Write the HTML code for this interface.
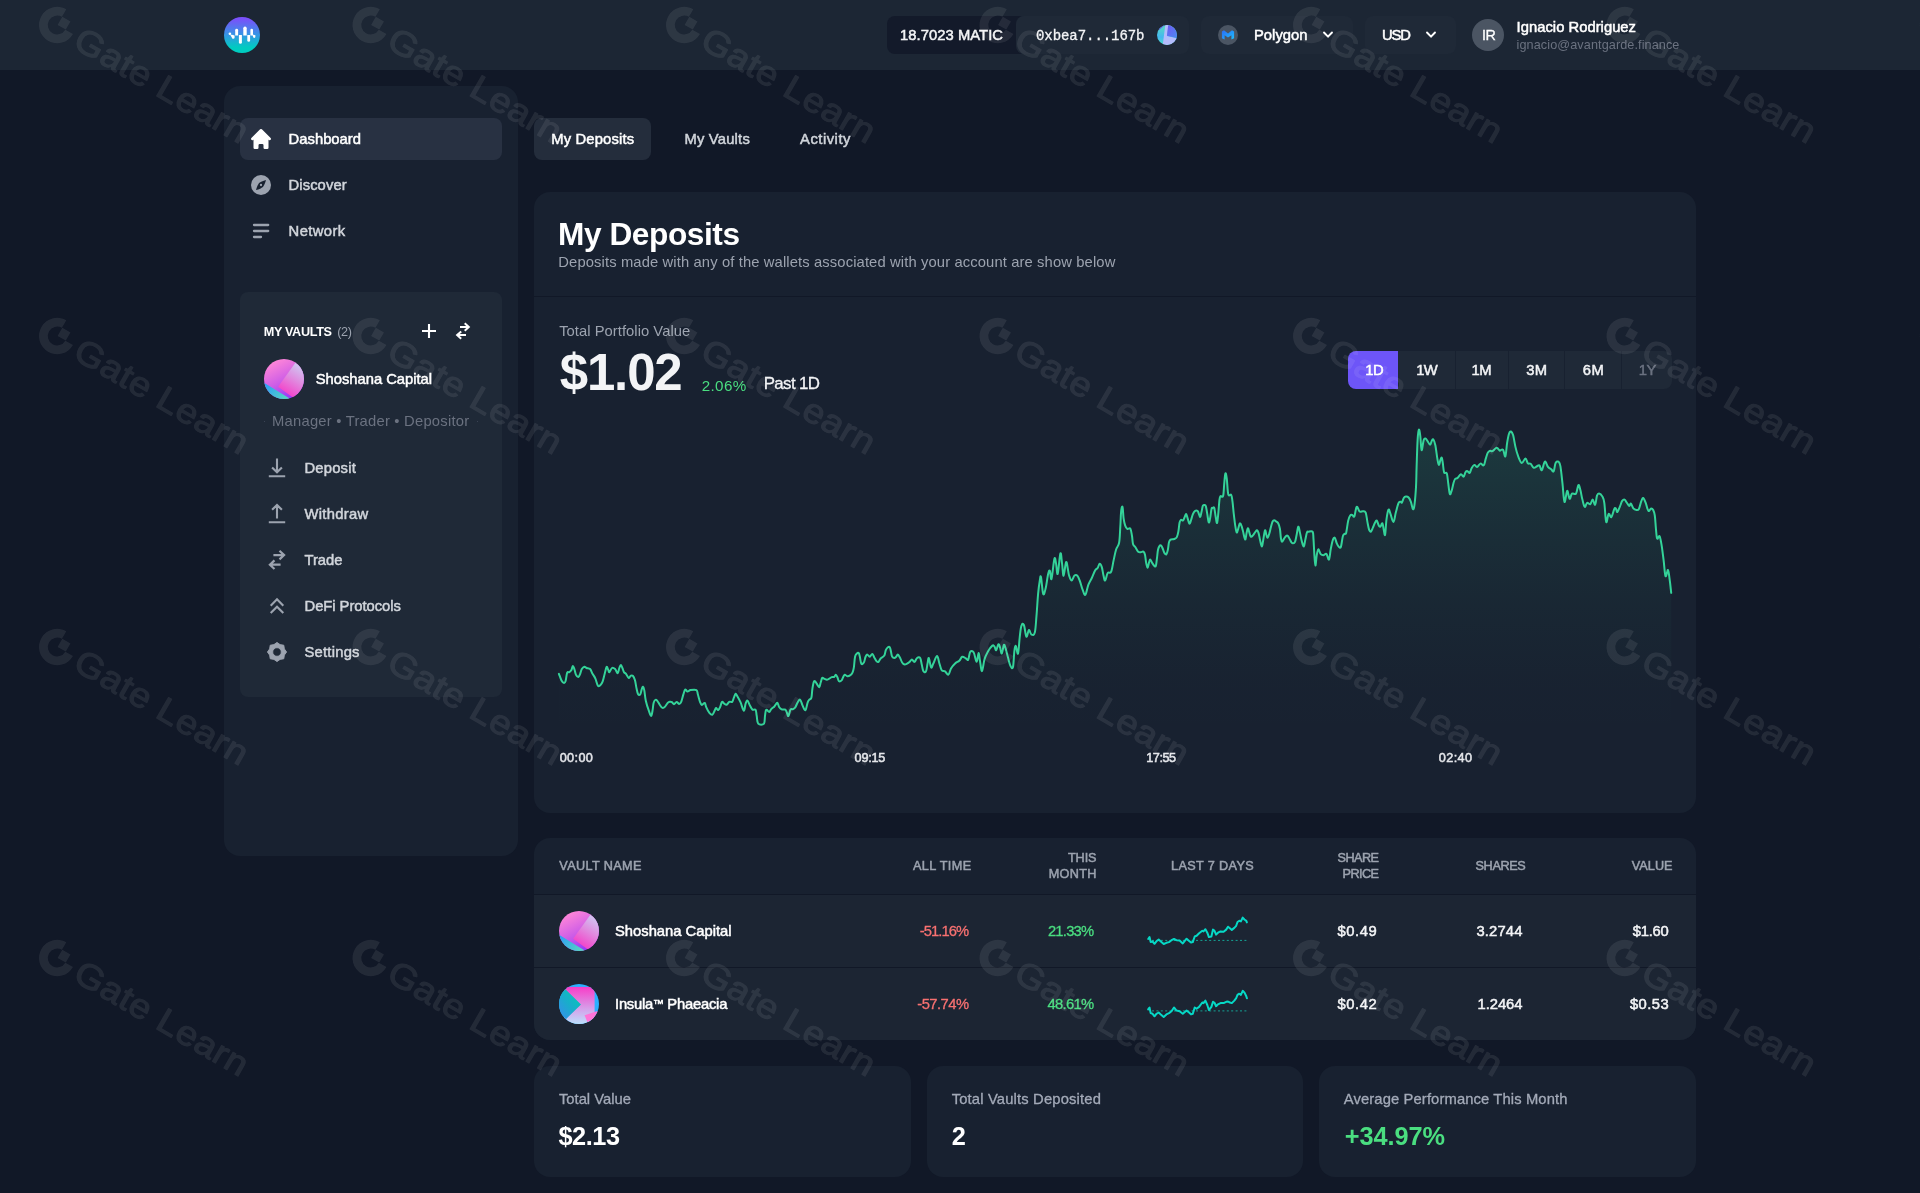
<!DOCTYPE html>
<html lang="en"><head><meta charset="utf-8"><title>Enzyme – My Deposits</title>
<style>
*{box-sizing:border-box;margin:0;padding:0}
html,body{width:1920px;height:1193px;overflow:hidden;background:#111827}
body{font-family:'Liberation Sans', sans-serif;position:relative;color:#fff}
.abs{position:absolute}
.t{position:absolute;white-space:pre;line-height:1;display:block}
.box{position:absolute;border-radius:8px}
.layer{position:absolute;left:0;top:0;width:1920px;height:1193px;will-change:transform}
.side{left:224px;top:86px;width:294px;height:770px;background:#182130;border-radius:16px}
  .card{background:#182130;border-radius:16px}
svg{display:block;overflow:visible}
#wm text{font-family:'Liberation Sans', sans-serif;font-weight:400;fill:#fff;stroke:#fff;stroke-width:1.1px;stroke-linejoin:round}
</style></head><body>
<header class="layer">
<div class="abs" style="left:0;top:0;width:1920px;height:70px;background:#1c2634"></div>
<!-- header pills -->
<div class="box" style="left:887px;top:16px;width:140px;height:38px;background:#131a2a"></div>
<div class="box" style="left:1016px;top:16px;width:173px;height:38px;background:#1f2937"></div>
<div class="box" style="left:1201px;top:16px;width:152px;height:38px;background:#1f2937"></div>
<div class="box" style="left:1365px;top:16px;width:91px;height:38px;background:#1f2937"></div>
<div class="abs" style="left:1472px;top:19px;width:32px;height:32px;border-radius:50%;background:#4b5563"></div>
<!-- logo -->
<svg class="abs" style="left:224px;top:17px" width="36" height="36" viewBox="0 0 36 36"><defs><linearGradient id="lg" x1="0" y1="0" x2="0" y2="1"><stop offset="0.05" stop-color="#7a50fb"/><stop offset="0.5" stop-color="#3496e4"/><stop offset="0.85" stop-color="#00ccc0"/></linearGradient></defs>
<circle cx="18" cy="18" r="18" fill="url(#lg)"/>
<g fill="#fff"><circle cx="5.9" cy="16.8" r="1.3"/>
<path d="M6.2 17.8 L8 17.8 L10.6 18.6 L10.6 20.4 A1.4 1.4 0 0 1 7.8 20.4 Z"/>
<path d="M11.2 18.4 L11.2 13.2 A1.45 1.45 0 0 1 14.1 13.2 L14.1 18.4 Z"/>
<path d="M14.9 18 L17.9 18 L17.9 25.2 A1.5 1.5 0 0 1 14.9 25.2 Z"/>
<path d="M19.3 18.4 L19.3 11.2 A1.7 1.7 0 0 1 22.7 11.2 L22.7 18.4 Z"/>
<path d="M23.3 18 L26.1 18 L26.1 23.4 A1.4 1.4 0 0 1 23.3 23.4 Z"/>
<path d="M26.4 18.4 L26.4 13 A1.3 1.3 0 0 1 29 13 L29 18.4 Z"/>
<path d="M28.6 17.6 L31.4 18.2 L31.4 19.6 A1.2 1.2 0 0 1 29 19.8 Z"/></g></svg>
<!-- address avatar -->
<svg class="abs" style="left:1157px;top:25px" width="20" height="20" viewBox="0 0 20 20"><defs><clipPath id="avc"><circle cx="10" cy="10" r="10"/></clipPath>
<linearGradient id="av1" x1="0.2" y1="0" x2="0.1" y2="1"><stop offset="0" stop-color="#58dcc0"/><stop offset="0.6" stop-color="#44b8f0"/><stop offset="1" stop-color="#50e0c8"/></linearGradient>
<linearGradient id="av2" x1="0" y1="0" x2="1" y2="1"><stop offset="0" stop-color="#7058f4"/><stop offset="1" stop-color="#4a8cf0"/></linearGradient></defs>
<g clip-path="url(#avc)"><rect width="20" height="20" fill="url(#av1)"/>
<polygon points="0,0 8,0 2,5" fill="#6a52f0"/>
<polygon points="8.3,0 11.7,0 10,11 21,13.5 21,21 5.6,21" fill="#b4bcfc"/>
<polygon points="11.2,0 21,0 21,13.2 9.9,10.7" fill="url(#av2)"/></g></svg>
<!-- polygon icon -->
<svg class="abs" style="left:1218px;top:25px" width="20" height="20" viewBox="0 0 20 20"><defs><linearGradient id="pg" x1="0" y1="0" x2="1" y2="1"><stop offset="0" stop-color="#2a6cf6"/><stop offset="1" stop-color="#1ec0ff"/></linearGradient></defs>
<circle cx="10" cy="10" r="10" fill="#4b5563"/>
<path d="M3.9 6.4 L6 5.2 L10 8.6 L14 5.2 L16.1 6.4 L16.1 13.2 L13.4 14.5 L13.4 10.2 L10 12.6 L6.6 10.2 L6.6 14.5 L3.9 13.2 Z" fill="url(#pg)"/></svg>
<!-- chevrons -->
<svg class="abs" style="left:1323px;top:31px" width="10" height="8" viewBox="0 0 10 8"><path d="M1 1.5 L5 5.7 L9 1.5" fill="none" stroke="#fff" stroke-width="1.9" stroke-linecap="round" stroke-linejoin="round"/></svg>
<svg class="abs" style="left:1426px;top:31px" width="10" height="8" viewBox="0 0 10 8"><path d="M1 1.5 L5 5.7 L9 1.5" fill="none" stroke="#fff" stroke-width="1.9" stroke-linecap="round" stroke-linejoin="round"/></svg>

<span class="t" id="t0" style="left:900.0px;top:28.25px;font-size:14.77px;font-weight:400;color:#f3f4f6;-webkit-text-stroke:0.5px currentColor;letter-spacing:0.057px;">18.7023 MATIC</span>
<span class="t" id="t1" style="left:1036.0px;top:29.09px;font-size:14px;font-weight:400;color:#f3f4f6;font-family:'Liberation Mono', monospace;-webkit-text-stroke:0.3px currentColor;letter-spacing:-0.061px;">0xbea7...167b</span>
<span class="t" id="t2" style="left:1254.0px;top:28.25px;font-size:14.77px;font-weight:400;color:#ffffff;-webkit-text-stroke:0.5px currentColor;letter-spacing:0.023px;">Polygon</span>
<span class="t" id="t3" style="left:1382.0px;top:28.25px;font-size:14.77px;font-weight:400;color:#ffffff;-webkit-text-stroke:0.5px currentColor;letter-spacing:-1.094px;">USD</span>
<span class="t" id="t4" style="left:1482.0px;top:28.00px;font-size:14.35px;font-weight:400;color:#ffffff;-webkit-text-stroke:0.3px currentColor;letter-spacing:-0.600px;">IR</span>
<span class="t" id="t5" style="left:1516.6px;top:19.95px;font-size:14.77px;font-weight:400;color:#ffffff;-webkit-text-stroke:0.5px currentColor;letter-spacing:0.023px;">Ignacio Rodriguez</span>
<span class="t" id="t6" style="left:1516.6px;top:38.63px;font-size:12.66px;font-weight:400;color:#6b7280;letter-spacing:0.087px;">ignacio@avantgarde.finance</span>
</header>

<!-- sidebar -->
<aside class="layer">
<div class="abs side"></div>
<div class="box" style="left:240px;top:118px;width:262px;height:42px;background:#283142"></div>
<div class="box" style="left:240px;top:292px;width:262px;height:405px;background:#1f2937"></div>
<svg class="abs" style="left:251px;top:129px" width="20" height="20" viewBox="0 0 20 20"><path fill="#fff" d="M10.707 2.293a1 1 0 00-1.414 0l-7 7a1 1 0 001.414 1.414L4 10.414V17a1 1 0 001 1h2a1 1 0 001-1v-2a1 1 0 011-1h2a1 1 0 011 1v2a1 1 0 001 1h2a1 1 0 001-1v-6.586l.293.293a1 1 0 001.414-1.414l-7-7z" transform="translate(-2.5 -2.5) scale(1.25)"/></svg>
<svg class="abs" style="left:251px;top:175px" width="20" height="20" viewBox="0 0 20 20"><circle cx="10" cy="10" r="10" fill="#9ca3af"/><path d="M15 5 C14.2 8.2 12.9 10.6 11.9 11.9 C10.6 12.9 8.2 14.2 5 15 C5.8 11.8 7.1 9.4 8.1 8.1 C9.4 7.1 11.8 5.8 15 5 Z" fill="#182130"/><circle cx="10" cy="10" r="1.15" fill="#9ca3af"/></svg>
<svg class="abs" style="left:251px;top:221px" width="20" height="20" viewBox="0 0 20 20"><g stroke="#9ca3af" stroke-width="2.3" stroke-linecap="round"><path d="M3 4h14.2M3 10h14.2M3 16h7"/></g></svg>
<!-- vault panel icons -->
<svg class="abs" style="left:419px;top:321px" width="20" height="20" viewBox="0 0 20 20"><path d="M3 10h14M10 3v14" stroke="#fff" stroke-width="2.1" fill="none"/></svg>
<svg class="abs" style="left:453px;top:321px" width="20" height="20" viewBox="0 0 20 20"><path d="M7 6h8.8M11.7 2.3L15.8 6l-4.1 3.7M13 14.1H4.1M8.2 10.4L4.1 14.1l4.1 3.7" stroke="#fff" stroke-width="2" fill="none" stroke-linejoin="miter"/></svg>
<div class="abs" style="left:264px;top:359px;width:40px;height:40px"><svg class="abs" style="left:0;top:0" width="40" height="40" viewBox="0 0 40 40"><defs>
<clipPath id="s1c"><circle cx="20" cy="20" r="20"/></clipPath>
<linearGradient id="s1a" x1="0.15" y1="0.1" x2="0.6" y2="0.95"><stop offset="0" stop-color="#ff86d8"/><stop offset="0.55" stop-color="#cf5ee6"/><stop offset="1" stop-color="#9a3cf8"/></linearGradient>
<linearGradient id="s1b" x1="0.75" y1="0.05" x2="0.25" y2="0.9"><stop offset="0" stop-color="#cdd0f4"/><stop offset="0.5" stop-color="#e08adf"/><stop offset="1" stop-color="#f53ec8"/></linearGradient>
<linearGradient id="s1d" x1="0" y1="0.2" x2="1" y2="0.9"><stop offset="0" stop-color="#2a9cf8"/><stop offset="1" stop-color="#5fe0b8"/></linearGradient>
</defs><g clip-path="url(#s1c)"><rect width="40" height="40" fill="url(#s1a)"/>
<path d="M0 4 L12 0 L8 3 Z" fill="#5a54ee"/>
<polygon points="-2,22.5 27,40.3 27,44 -2,44" fill="url(#s1d)"/>
<polygon points="14.1,27.7 31.4,3.8 48,16 31,40" fill="url(#s1b)"/>
</g></svg></div>
<div class="abs" style="left:264px;top:421px;width:1px;height:1px;background:#3a4354"></div><div class="abs" style="left:477px;top:421px;width:1px;height:1px;background:#3a4354"></div>
<!-- vault menu icons -->
<svg class="abs" style="left:267px;top:458px" width="20" height="20" viewBox="0 0 20 20"><path d="M10 0.6V14M5.1 9.4L10 14.3l4.9-4.9M1.8 18.3h16.4" stroke="#9ca3af" stroke-width="2.1" fill="none"/></svg>
<svg class="abs" style="left:267px;top:504px" width="20" height="20" viewBox="0 0 20 20"><path d="M10 14.6V1.2M5.1 5.8L10 0.9l4.9 4.9M1.8 18.3h16.4" stroke="#9ca3af" stroke-width="2.1" fill="none"/></svg>
<svg class="abs" style="left:267px;top:550px" width="20" height="20" viewBox="0 0 20 20"><path d="M6.4 5.1h10.7M12.5 0.8L17.1 5.1L12.5 9.4M13.6 14.7H2.9M7.5 10.4L2.9 14.7L7.5 19" stroke="#9ca3af" stroke-width="2.2" fill="none"/></svg>
<svg class="abs" style="left:267px;top:596px" width="20" height="20" viewBox="0 0 20 20"><path d="M3.7 9.7L10 3.3l6.3 6.4M3.7 17.1L10 10.7l6.3 6.4" stroke="#9ca3af" stroke-width="2.1" fill="none"/></svg>
<svg class="abs" style="left:267px;top:642px" width="20" height="20" viewBox="0 0 20 20"><path fill="#9ca3af" fill-rule="evenodd" stroke="#9ca3af" stroke-width="0.9" stroke-linejoin="round" d="M10.00 0.40 L13.06 2.61 L16.79 3.21 L17.39 6.94 L19.60 10.00 L17.39 13.06 L16.79 16.79 L13.06 17.39 L10.00 19.60 L6.94 17.39 L3.21 16.79 L2.61 13.06 L0.40 10.00 L2.61 6.94 L3.21 3.21 L6.94 2.61 Z M10 5.7 A4.3 4.3 0 1 0 10 14.3 A4.3 4.3 0 1 0 10 5.7 Z"/></svg>

<span class="t" id="t7" style="left:288.6px;top:132.15px;font-size:14.77px;font-weight:400;color:#ffffff;-webkit-text-stroke:0.5px currentColor;letter-spacing:0.019px;">Dashboard</span>
<span class="t" id="t8" style="left:288.6px;top:178.25px;font-size:14.77px;font-weight:400;color:#d1d5db;-webkit-text-stroke:0.5px currentColor;letter-spacing:0.080px;">Discover</span>
<span class="t" id="t9" style="left:288.6px;top:224.25px;font-size:14.77px;font-weight:400;color:#d1d5db;-webkit-text-stroke:0.5px currentColor;letter-spacing:0.391px;">Network</span>
<span class="t" id="t10" style="left:263.7px;top:325.93px;font-size:12.66px;font-weight:700;color:#ffffff;letter-spacing:-0.341px;">MY VAULTS</span>
<span class="t" id="t11" style="left:337.2px;top:325.93px;font-size:12.66px;font-weight:400;color:#9ca3af;letter-spacing:-0.337px;">(2)</span>
<span class="t" id="t12" style="left:315.8px;top:371.75px;font-size:14.77px;font-weight:400;color:#ffffff;-webkit-text-stroke:0.5px currentColor;letter-spacing:-0.025px;">Shoshana Capital</span>
<span class="t" id="t13" style="left:272.1px;top:413.95px;font-size:14.77px;font-weight:400;color:#6b7280;letter-spacing:0.226px;">Manager • Trader • Depositor</span>
<span class="t" id="t14" style="left:304.5px;top:461.35px;font-size:14.77px;font-weight:400;color:#d1d5db;-webkit-text-stroke:0.5px currentColor;letter-spacing:0.206px;">Deposit</span>
<span class="t" id="t15" style="left:304.5px;top:507.35px;font-size:14.77px;font-weight:400;color:#d1d5db;-webkit-text-stroke:0.5px currentColor;letter-spacing:0.308px;">Withdraw</span>
<span class="t" id="t16" style="left:304.5px;top:553.35px;font-size:14.77px;font-weight:400;color:#d1d5db;-webkit-text-stroke:0.5px currentColor;letter-spacing:-0.008px;">Trade</span>
<span class="t" id="t17" style="left:304.5px;top:599.35px;font-size:14.77px;font-weight:400;color:#d1d5db;-webkit-text-stroke:0.5px currentColor;letter-spacing:-0.033px;">DeFi Protocols</span>
<span class="t" id="t18" style="left:304.5px;top:645.35px;font-size:14.77px;font-weight:400;color:#d1d5db;-webkit-text-stroke:0.5px currentColor;letter-spacing:0.234px;">Settings</span>
</aside>

<main class="layer">
<!-- tabs -->
<div class="box" style="left:534px;top:118px;width:117px;height:42px;background:#242d3c"></div>
<!-- main card -->
<div class="abs card" style="left:534px;top:192px;width:1162px;height:621px"></div>
<div class="abs" style="left:534px;top:296px;width:1162px;height:1px;background:#111827"></div>
<!-- range buttons -->
<div class="abs" style="left:1348px;top:351px;width:324px;height:38px;border-radius:8px;background:#1f2937;overflow:hidden">
<div class="abs" style="left:0;top:0;width:50px;height:38px;background:#6d55f8"></div>
<div class="abs" style="left:107px;top:0;width:1px;height:38px;background:#182130"></div>
<div class="abs" style="left:160px;top:0;width:1px;height:38px;background:#182130"></div>
<div class="abs" style="left:216px;top:0;width:1px;height:38px;background:#182130"></div>
<div class="abs" style="left:273px;top:0;width:1px;height:38px;background:#182130"></div>
</div>
<!-- chart -->
<svg class="abs" style="left:0;top:0" width="1920" height="1193" viewBox="0 0 1920 1193"><defs><linearGradient id="cg" gradientUnits="userSpaceOnUse" x1="0" y1="430" x2="0" y2="741"><stop offset="0" stop-color="#34d399" stop-opacity="0.14"/><stop offset="0.3" stop-color="#34d399" stop-opacity="0.078"/><stop offset="0.55" stop-color="#34d399" stop-opacity="0.036"/><stop offset="0.8" stop-color="#34d399" stop-opacity="0.008"/><stop offset="1" stop-color="#34d399" stop-opacity="0"/></linearGradient></defs>
<path d="M558.9 673.8 C559.4 675.0 560.6 678.8 561.5 680.5 C562.4 682.2 563.4 683.0 564.1 683.1 C564.8 683.2 565.0 682.9 565.6 681.0 C566.2 679.1 566.5 674.3 567.2 672.7 C567.9 671.1 568.5 672.7 569.3 672.2 C570.1 671.7 570.8 671.2 571.4 670.1 C572.0 669.0 572.3 666.0 572.9 665.9 C573.5 665.8 573.9 668.0 574.5 669.6 C575.1 671.2 575.3 673.4 576.0 674.8 C576.7 676.1 577.5 677.3 578.3 677.1 C579.1 676.9 579.6 675.2 580.2 673.8 C580.8 672.4 581.0 670.4 581.8 669.1 C582.6 667.8 583.6 666.9 584.4 666.7 C585.2 666.5 585.5 667.6 586.5 668.0 C587.5 668.4 589.1 668.2 590.1 669.1 C591.1 670.0 591.3 671.5 592.2 673.2 C593.1 674.9 594.3 676.1 595.3 678.4 C596.3 680.6 597.0 684.5 597.9 685.7 C598.8 686.9 599.7 685.7 600.5 685.0 C601.3 684.3 601.8 683.6 602.6 681.6 C603.4 679.6 604.0 676.4 604.7 673.8 C605.4 671.2 606.0 667.7 606.6 667.0 C607.2 666.3 607.8 669.2 608.3 670.1 C608.8 671.0 608.7 672.6 609.4 672.2 C610.1 671.8 611.0 668.6 612.0 668.0 C613.0 667.4 614.1 668.2 615.1 669.1 C616.1 670.0 616.9 673.4 617.7 673.2 C618.5 673.0 618.7 669.5 619.3 668.0 C619.9 666.5 620.2 664.9 620.8 664.9 C621.4 664.9 621.8 666.7 622.4 668.0 C623.0 669.3 623.4 671.2 624.0 672.2 C624.6 673.2 625.2 672.8 626.0 673.8 C626.8 674.8 627.8 677.5 628.6 677.9 C629.4 678.3 629.9 676.2 630.7 675.8 C631.5 675.4 632.0 675.0 632.8 675.8 C633.6 676.6 634.2 677.8 634.9 680.0 C635.6 682.2 635.9 685.8 636.5 688.3 C637.1 690.8 637.4 693.0 638.0 694.1 C638.6 695.2 639.4 695.4 640.1 694.6 C640.8 693.8 641.2 690.8 641.7 689.4 C642.2 688.0 642.5 686.6 643.0 686.8 C643.5 687.0 643.8 687.9 644.3 690.4 C644.8 692.9 645.0 697.1 645.8 700.8 C646.6 704.5 648.0 708.5 649.0 711.2 C650.0 713.9 650.6 716.1 651.2 715.9 C651.8 715.7 652.2 712.5 652.6 710.2 C653.0 707.9 653.1 704.7 653.6 702.9 C654.1 701.1 654.5 700.4 655.2 700.0 C655.9 699.6 656.5 699.9 657.3 700.8 C658.1 701.7 659.0 703.7 659.9 705.0 C660.8 706.3 661.6 707.6 662.5 707.9 C663.4 708.2 664.2 707.5 665.1 706.6 C666.0 705.7 666.9 703.8 667.7 702.9 C668.5 702.0 669.0 701.8 669.8 701.7 C670.6 701.6 671.1 701.6 671.9 702.1 C672.7 702.6 673.2 704.2 674.0 704.2 C674.8 704.2 675.7 701.9 676.6 701.9 C677.5 701.9 678.4 704.0 679.2 704.0 C680.0 704.0 680.5 703.6 681.2 701.9 C681.9 700.2 682.6 696.8 683.3 694.6 C684.0 692.4 684.4 690.2 685.2 689.6 C686.0 689.0 686.5 691.4 687.5 691.5 C688.5 691.6 689.0 690.4 690.6 690.1 C692.2 689.8 695.1 689.3 696.4 690.1 C697.7 690.9 697.3 692.5 697.9 694.6 C698.5 696.7 699.3 700.0 700.0 701.9 C700.7 703.8 701.1 704.8 701.9 705.0 C702.7 705.2 703.9 702.5 704.7 702.9 C705.5 703.3 705.4 705.3 706.2 707.1 C707.0 708.9 708.3 711.4 709.4 712.8 C710.5 714.1 711.6 715.0 712.5 714.6 C713.4 714.2 714.0 711.9 714.6 710.7 C715.2 709.5 715.5 708.2 716.1 708.1 C716.7 708.0 717.4 710.3 718.2 710.0 C719.0 709.7 719.6 708.1 720.3 706.6 C721.0 705.1 721.2 702.5 721.9 701.9 C722.6 701.3 723.2 702.9 724.0 703.4 C724.8 703.9 725.7 705.1 726.6 704.8 C727.5 704.5 728.2 702.5 729.2 701.9 C730.2 701.3 731.5 702.5 732.3 701.7 C733.1 700.9 733.3 699.1 733.9 697.7 C734.5 696.3 735.0 694.0 735.6 693.8 C736.2 693.6 736.6 695.0 737.5 696.5 C738.4 698.0 739.5 699.8 740.6 702.4 C741.7 705.0 742.9 710.5 743.8 710.7 C744.7 710.9 745.0 705.1 745.7 703.3 C746.4 701.5 746.7 700.3 747.5 700.7 C748.3 701.1 749.0 703.8 749.9 705.4 C750.8 707.0 751.5 708.8 752.5 709.6 C753.5 710.4 754.8 708.7 755.6 709.8 C756.4 710.9 756.2 713.3 756.7 715.8 C757.2 718.3 756.9 722.2 758.2 723.6 C759.5 725.0 762.8 725.0 764.0 723.6 C765.0 722.2 764.6 718.3 765.0 715.8 C765.4 713.3 765.4 710.5 766.2 709.8 C767.0 709.1 768.3 712.0 769.2 711.9 C770.1 711.8 770.3 710.1 771.2 709.1 C772.1 708.1 773.3 707.6 774.4 706.5 C775.5 705.4 776.5 702.7 777.3 702.8 C778.1 702.9 778.3 705.8 779.1 707.0 C779.9 708.2 780.6 708.9 781.7 709.4 C782.8 709.9 784.4 709.0 785.3 709.6 C786.2 710.2 786.3 711.5 786.9 712.7 C787.5 713.9 787.8 716.6 788.4 716.0 C789.0 715.4 789.7 710.8 790.5 709.6 C791.3 708.4 792.3 709.5 793.1 709.1 C793.9 708.7 794.4 708.7 795.2 707.5 C796.0 706.3 796.9 703.7 797.8 702.3 C798.7 700.9 799.4 699.1 800.2 699.7 C801.0 700.3 801.6 703.5 802.5 705.4 C803.4 707.3 804.5 710.7 805.4 710.1 C806.3 709.5 807.0 704.2 807.7 702.3 C808.4 700.4 808.6 700.5 809.3 699.7 C810.0 698.9 810.8 699.6 811.4 697.6 C812.0 695.6 811.9 691.8 812.4 688.8 C812.9 685.8 813.4 682.2 814.2 681.2 C815.0 680.2 815.7 682.4 816.6 683.5 C817.5 684.6 818.5 687.4 819.2 687.2 C819.9 687.0 820.1 684.2 820.7 682.5 C821.3 680.8 821.6 678.4 822.3 677.8 C823.0 677.2 823.5 678.6 824.4 678.9 C825.3 679.2 826.2 679.9 827.5 679.6 C828.8 679.3 830.5 677.6 831.7 677.1 C832.9 676.6 833.6 677.2 834.3 676.8 C835.0 676.4 835.2 674.6 835.8 674.7 C836.4 674.8 836.8 676.1 837.4 677.3 C838.0 678.5 838.2 680.6 839.0 681.2 C839.8 681.8 840.9 681.1 841.6 680.4 C842.3 679.7 842.5 678.3 843.1 677.3 C843.7 676.3 843.9 674.9 844.7 674.7 C845.5 674.5 846.3 676.1 847.3 676.2 C848.3 676.3 849.5 675.8 850.4 675.2 C851.3 674.6 851.9 673.9 852.5 672.6 C853.1 671.3 853.3 670.8 853.8 667.9 C854.3 665.0 854.5 659.1 855.1 656.5 C855.7 653.9 856.5 653.9 857.2 653.3 C857.9 652.7 858.3 652.5 858.8 653.1 C859.3 653.7 859.3 654.6 859.8 656.5 C860.3 658.4 860.6 662.8 861.4 663.8 C862.2 664.8 863.3 663.4 864.0 662.2 C864.7 661.0 864.9 658.4 865.5 657.0 C866.1 655.6 866.3 654.5 867.1 654.4 C867.9 654.3 868.8 656.8 869.7 656.7 C870.6 656.6 871.5 653.7 872.3 653.9 C873.1 654.1 873.6 656.4 874.4 657.7 C875.2 659.0 875.8 660.3 876.5 661.1 C877.2 661.9 877.8 662.4 878.5 661.9 C879.2 661.4 879.6 659.6 880.6 658.5 C881.6 657.4 883.4 657.1 884.3 655.6 C885.2 654.1 885.2 651.7 885.8 650.2 C886.4 648.7 887.2 647.8 887.9 647.3 C888.6 646.8 889.2 646.5 889.8 647.3 C890.4 648.1 890.6 650.1 891.0 651.8 C891.4 653.5 891.5 655.4 892.1 656.5 C892.7 657.6 893.5 658.0 894.2 658.0 C894.9 658.0 895.6 657.3 896.2 656.7 C896.8 656.1 897.1 654.5 897.8 654.6 C898.5 654.7 899.1 656.1 899.9 657.5 C900.7 658.9 901.2 661.0 902.0 662.2 C902.8 663.4 903.3 664.0 904.1 664.3 C904.9 664.6 905.7 664.3 906.7 663.8 C907.7 663.3 908.9 662.5 909.8 661.7 C910.7 660.9 911.1 659.4 911.9 659.4 C912.7 659.4 913.6 662.2 914.5 661.9 C915.4 661.6 916.1 658.7 917.1 658.0 C918.1 657.3 919.4 656.8 920.2 658.0 C921.0 659.2 921.2 662.5 921.8 664.8 C922.4 667.1 922.6 669.8 923.3 671.0 C924.0 672.2 925.1 672.9 925.9 671.6 C926.7 670.3 927.0 666.2 927.5 663.8 C928.0 661.4 928.2 657.4 928.8 658.0 C929.4 658.6 930.3 666.4 931.1 667.4 C931.9 668.4 932.1 665.9 933.2 663.8 C934.3 661.7 935.9 656.2 937.0 656.0 C938.1 655.8 938.4 660.1 939.2 662.7 C940.0 665.3 940.6 668.6 941.7 670.2 C942.8 671.8 943.9 670.6 945.1 671.4 C946.3 672.2 947.3 675.2 948.4 674.7 C949.5 674.2 949.8 670.5 951.0 668.5 C952.2 666.5 953.6 664.9 955.1 663.5 C956.6 662.1 958.0 661.9 959.3 660.7 C960.6 659.5 961.0 657.2 962.2 656.8 C963.4 656.4 964.9 658.0 966.0 658.5 C967.1 659.0 967.4 660.9 968.2 659.7 C969.0 658.5 969.2 653.1 970.2 651.8 C971.2 650.5 972.4 650.5 973.6 652.3 C974.8 654.1 975.7 661.7 976.6 661.8 C977.5 661.9 978.0 653.1 978.6 653.0 C979.2 652.9 979.4 657.7 980.0 661.0 C980.6 664.3 981.2 671.4 982.0 671.1 C982.8 670.8 983.5 662.8 984.5 659.3 C985.5 655.8 986.4 654.3 987.8 651.8 C989.2 649.3 991.2 646.5 992.4 645.6 C993.6 644.7 993.8 645.9 994.5 646.7 C995.2 647.5 995.5 650.6 996.2 650.1 C996.9 649.6 997.7 644.7 998.4 644.2 C999.1 643.8 999.5 645.9 1000.1 647.6 C1000.7 649.3 1001.1 654.0 1001.8 653.5 C1002.5 653.0 1003.2 646.2 1003.8 645.1 C1004.4 644.0 1004.6 645.4 1005.4 647.6 C1006.2 649.9 1007.1 654.3 1008.0 657.6 C1008.9 660.9 1009.6 664.3 1010.5 666.0 C1011.4 667.7 1012.3 669.5 1013.0 666.9 C1013.7 664.3 1013.8 655.6 1014.3 651.8 C1014.8 648.0 1015.1 645.6 1015.8 645.9 C1016.5 646.2 1017.3 655.0 1018.0 653.5 C1018.7 652.0 1019.1 642.5 1019.7 637.5 C1020.3 632.5 1020.6 628.0 1021.4 625.8 C1022.2 623.5 1023.0 623.0 1023.9 625.0 C1024.8 627.0 1025.5 635.8 1026.4 636.7 C1027.3 637.6 1028.0 630.4 1028.9 630.0 C1029.8 629.6 1030.3 634.0 1031.4 634.5 C1032.5 635.0 1033.9 635.9 1034.8 632.5 C1035.7 629.1 1035.9 622.6 1036.5 615.7 C1037.1 608.8 1037.5 600.2 1038.1 593.9 C1038.7 587.6 1039.3 583.5 1039.8 580.5 C1040.3 577.5 1040.4 574.8 1041.0 577.2 C1041.6 579.6 1042.4 591.9 1043.2 593.9 C1044.0 595.9 1044.8 591.7 1045.7 588.1 C1046.6 584.5 1047.4 576.9 1048.2 573.8 C1049.0 570.7 1049.3 569.9 1049.9 570.8 C1050.5 571.7 1050.7 581.1 1051.5 578.9 C1052.3 576.7 1053.6 561.4 1054.4 558.7 C1055.2 556.0 1055.5 561.1 1056.1 563.8 C1056.7 566.5 1056.9 575.7 1057.7 573.8 C1058.5 571.9 1059.6 555.2 1060.4 553.4 C1061.2 551.6 1061.5 559.8 1062.1 563.8 C1062.7 567.8 1062.9 576.1 1063.6 575.8 C1064.3 575.5 1065.3 563.4 1066.1 562.1 C1066.9 560.8 1067.3 566.4 1067.8 568.8 C1068.3 571.2 1068.4 573.4 1069.1 575.5 C1069.8 577.6 1070.7 580.5 1071.7 580.5 C1072.7 580.5 1073.5 576.3 1074.5 575.5 C1075.5 574.7 1076.5 574.7 1077.5 575.8 C1078.5 576.9 1079.1 578.9 1080.0 581.4 C1080.9 583.9 1081.6 587.3 1082.6 589.7 C1083.6 592.1 1084.4 595.7 1085.4 594.8 C1086.4 593.9 1087.2 587.7 1088.4 584.7 C1089.6 581.7 1090.6 580.6 1091.8 578.0 C1093.0 575.4 1094.1 572.3 1095.1 570.5 C1096.1 568.7 1096.8 569.2 1097.6 568.0 C1098.4 566.8 1098.9 564.0 1099.7 563.8 C1100.5 563.6 1101.1 565.0 1101.8 567.1 C1102.5 569.2 1102.9 573.1 1103.5 575.5 C1104.1 577.9 1104.4 581.0 1105.2 580.5 C1106.0 580.0 1106.6 574.6 1107.7 573.0 C1108.8 571.4 1110.0 574.1 1111.1 571.8 C1112.2 569.5 1112.7 564.4 1113.6 560.4 C1114.5 556.4 1115.1 552.7 1116.1 549.5 C1117.1 546.3 1118.3 546.9 1119.1 542.8 C1119.9 538.7 1119.9 532.5 1120.3 526.9 C1120.7 521.3 1120.7 515.4 1121.1 511.8 C1121.5 508.2 1122.0 505.6 1122.5 506.8 C1123.0 508.0 1123.1 514.9 1123.6 518.3 C1124.1 521.7 1124.5 523.7 1125.2 525.6 C1125.9 527.5 1126.4 528.2 1127.3 528.8 C1128.2 529.4 1129.6 527.5 1130.4 528.8 C1131.2 530.1 1131.5 533.3 1132.0 536.0 C1132.5 538.7 1132.4 541.8 1133.0 543.9 C1133.6 546.0 1134.7 546.1 1135.6 547.5 C1136.5 548.9 1137.3 550.9 1138.2 551.7 C1139.1 552.5 1139.9 552.2 1140.8 552.2 C1141.7 552.2 1142.6 551.2 1143.4 551.7 C1144.2 552.2 1144.5 552.7 1145.0 554.8 C1145.5 556.9 1145.7 560.8 1146.2 563.1 C1146.7 565.4 1147.1 567.9 1147.6 567.8 C1148.1 567.7 1148.5 564.1 1149.0 562.6 C1149.5 561.1 1149.6 559.4 1150.2 559.5 C1150.8 559.6 1151.5 561.9 1152.3 563.1 C1153.1 564.3 1153.8 565.5 1154.4 566.0 C1155.0 566.5 1155.4 567.2 1155.9 565.7 C1156.4 564.2 1156.6 560.8 1157.0 557.9 C1157.4 555.0 1157.5 552.0 1158.0 549.8 C1158.5 547.6 1159.0 546.7 1159.6 545.9 C1160.2 545.1 1160.5 545.1 1161.1 545.6 C1161.7 546.1 1162.1 547.2 1162.7 548.5 C1163.3 549.8 1163.6 551.7 1164.3 552.7 C1165.0 553.7 1165.8 554.9 1166.4 554.3 C1167.0 553.7 1167.4 551.8 1167.9 549.6 C1168.4 547.4 1168.5 544.1 1169.0 542.3 C1169.5 540.5 1169.6 540.3 1170.5 539.7 C1171.4 539.1 1173.1 539.5 1174.2 539.0 C1175.3 538.5 1176.1 538.4 1176.8 537.1 C1177.5 535.8 1177.8 534.5 1178.3 531.9 C1178.8 529.3 1179.1 524.7 1179.6 522.5 C1180.1 520.3 1180.3 520.3 1180.9 519.9 C1181.5 519.5 1182.3 520.9 1183.0 520.4 C1183.7 519.9 1184.0 518.5 1184.6 517.3 C1185.2 516.1 1185.6 513.9 1186.1 514.0 C1186.6 514.1 1186.9 516.1 1187.5 517.8 C1188.1 519.5 1188.7 522.9 1189.3 523.5 C1189.9 524.1 1190.2 522.6 1190.8 520.9 C1191.4 519.2 1192.1 516.0 1192.9 514.2 C1193.7 512.4 1194.2 511.6 1195.0 511.0 C1195.8 510.4 1196.9 510.4 1197.6 511.0 C1198.3 511.6 1198.5 513.2 1199.0 514.2 C1199.5 515.2 1199.8 517.2 1200.2 516.8 C1200.7 516.4 1201.0 514.1 1201.5 512.1 C1202.0 510.1 1202.3 507.1 1202.8 505.8 C1203.3 504.5 1203.8 504.9 1204.4 505.0 C1205.0 505.1 1205.4 504.7 1205.9 506.4 C1206.4 508.1 1206.8 511.3 1207.3 514.2 C1207.8 517.1 1208.3 521.8 1208.8 522.5 C1209.3 523.2 1209.6 520.7 1210.1 518.3 C1210.6 515.9 1211.0 510.9 1211.5 509.0 C1212.0 507.1 1212.4 508.1 1212.9 507.9 C1213.4 507.7 1213.8 506.6 1214.3 508.1 C1214.8 509.6 1215.1 513.5 1215.6 516.2 C1216.1 518.9 1216.6 523.7 1217.1 523.0 C1217.6 522.3 1218.0 516.3 1218.4 512.1 C1218.8 507.9 1219.1 502.5 1219.5 499.6 C1219.9 496.7 1219.9 496.9 1220.5 496.2 C1221.1 495.5 1222.4 498.1 1223.1 495.9 C1223.8 493.7 1223.8 488.0 1224.2 484.0 C1224.6 480.0 1224.9 474.4 1225.4 473.5 C1225.9 472.6 1226.3 475.0 1226.8 478.8 C1227.3 482.6 1227.5 491.5 1228.3 494.4 C1229.1 497.3 1230.4 493.6 1231.2 494.9 C1232.0 496.2 1232.0 498.2 1232.5 501.7 C1233.0 505.2 1233.3 510.1 1233.8 514.2 C1234.3 518.3 1234.6 521.3 1235.1 524.6 C1235.6 527.9 1236.1 531.6 1236.7 532.4 C1237.3 533.2 1237.6 530.4 1238.2 528.8 C1238.8 527.2 1239.2 524.1 1239.8 523.5 C1240.4 522.9 1240.8 524.3 1241.4 525.6 C1242.0 526.9 1242.3 528.6 1242.9 530.8 C1243.5 533.0 1244.0 536.1 1244.5 537.6 C1245.0 539.1 1245.1 540.0 1245.5 539.2 C1245.9 538.4 1246.2 534.9 1246.6 532.9 C1247.0 530.9 1247.4 528.4 1247.9 528.2 C1248.4 528.0 1248.7 530.4 1249.2 531.9 C1249.7 533.4 1250.1 536.0 1250.7 536.6 C1251.3 537.2 1252.0 536.3 1252.8 535.5 C1253.6 534.7 1254.6 532.8 1255.4 531.9 C1256.2 531.0 1256.4 530.1 1257.0 530.3 C1257.6 530.5 1257.9 531.1 1258.5 532.9 C1259.1 534.7 1259.5 537.8 1260.1 540.2 C1260.7 542.6 1261.3 546.5 1261.9 546.5 C1262.5 546.5 1262.6 543.1 1263.2 540.2 C1263.8 537.3 1264.4 531.2 1265.0 530.3 C1265.6 529.4 1265.9 533.7 1266.4 535.0 C1266.9 536.3 1267.1 538.0 1267.7 537.6 C1268.3 537.2 1268.9 534.9 1269.5 532.9 C1270.1 530.9 1270.4 528.8 1271.0 526.7 C1271.6 524.6 1272.0 522.7 1272.6 521.5 C1273.2 520.3 1273.6 520.2 1274.2 520.2 C1274.8 520.2 1275.5 520.9 1276.2 521.5 C1276.9 522.1 1277.6 522.2 1278.3 523.5 C1279.0 524.8 1279.4 526.2 1279.9 528.8 C1280.4 531.4 1280.5 535.8 1280.9 538.1 C1281.3 540.4 1281.4 541.7 1282.0 541.8 C1282.6 541.9 1283.4 539.6 1284.1 538.6 C1284.8 537.6 1285.5 536.5 1286.1 536.0 C1286.7 535.5 1287.0 535.2 1287.7 535.8 C1288.4 536.4 1289.1 538.0 1289.8 539.2 C1290.5 540.4 1290.8 541.6 1291.4 542.3 C1292.0 543.0 1292.3 543.4 1292.9 543.3 C1293.5 543.2 1294.3 543.3 1295.0 541.8 C1295.7 540.3 1296.0 537.7 1296.6 535.0 C1297.2 532.3 1297.7 527.1 1298.3 526.7 C1298.9 526.3 1299.4 530.3 1300.0 532.9 C1300.6 535.5 1301.1 538.8 1301.8 541.2 C1302.5 543.6 1303.3 546.9 1303.9 546.5 C1304.5 546.1 1304.8 541.7 1305.4 539.2 C1306.0 536.7 1306.4 533.8 1307.0 532.4 C1307.6 531.0 1307.5 531.8 1308.5 531.7 C1309.5 531.6 1311.8 530.5 1312.7 531.9 C1313.5 533.2 1313.2 535.3 1313.5 539.2 C1313.8 543.1 1314.0 549.1 1314.3 553.8 C1314.6 558.5 1315.0 565.2 1315.4 565.5 C1315.8 565.8 1316.2 558.4 1316.7 555.5 C1317.2 552.6 1317.6 549.7 1318.3 549.4 C1319.0 549.1 1319.8 553.1 1320.7 554.1 C1321.6 555.1 1322.4 555.2 1323.4 555.2 C1324.4 555.2 1325.4 553.1 1326.4 553.9 C1327.4 554.7 1328.2 560.4 1329.0 559.5 C1329.8 558.6 1330.1 552.3 1330.8 548.8 C1331.5 545.3 1332.1 542.1 1332.8 540.1 C1333.5 538.1 1334.1 537.2 1334.8 537.8 C1335.5 538.4 1336.1 541.8 1336.8 543.4 C1337.5 545.0 1338.1 546.2 1338.8 546.8 C1339.5 547.4 1340.2 548.7 1340.9 546.8 C1341.6 544.9 1342.2 538.4 1342.9 536.0 C1343.6 533.6 1344.3 534.3 1344.9 533.7 C1345.5 533.1 1345.6 535.1 1346.2 532.7 C1346.8 530.3 1347.5 523.7 1348.2 520.6 C1348.9 517.5 1349.5 516.5 1350.2 515.5 C1350.9 514.5 1351.6 514.8 1352.3 515.0 C1353.0 515.2 1353.7 517.6 1354.3 516.6 C1354.9 515.6 1355.4 510.9 1355.9 509.2 C1356.4 507.5 1356.5 506.5 1357.2 506.9 C1357.9 507.3 1358.6 510.7 1359.6 511.5 C1360.6 512.3 1361.9 511.0 1363.0 511.2 C1364.1 511.4 1364.9 510.7 1365.7 512.6 C1366.5 514.5 1366.8 518.9 1367.4 521.9 C1368.0 524.9 1368.4 527.6 1369.0 529.3 C1369.6 531.0 1370.3 532.0 1371.0 531.6 C1371.7 531.2 1372.3 528.9 1373.0 527.3 C1373.7 525.7 1374.4 523.8 1375.1 522.6 C1375.8 521.4 1376.2 520.1 1376.8 520.6 C1377.4 521.1 1378.1 524.2 1378.7 525.3 C1379.3 526.4 1379.7 527.0 1380.4 526.6 C1381.1 526.2 1381.8 522.7 1382.4 523.3 C1383.0 523.9 1383.3 527.9 1383.8 530.0 C1384.3 532.1 1384.6 536.6 1385.1 534.7 C1385.6 532.8 1385.9 523.8 1386.5 519.3 C1387.1 514.8 1387.8 510.6 1388.5 509.6 C1389.2 508.6 1389.6 511.7 1390.5 513.9 C1391.4 516.1 1392.4 522.1 1393.4 521.9 C1394.4 521.7 1394.9 516.0 1395.8 512.6 C1396.7 509.2 1397.7 505.1 1398.5 503.2 C1399.3 501.3 1399.9 501.9 1400.5 501.8 C1401.1 501.7 1401.3 503.2 1401.9 502.5 C1402.5 501.8 1403.2 498.9 1403.9 497.8 C1404.6 496.7 1405.1 496.6 1405.9 496.5 C1406.7 496.4 1407.7 496.5 1408.6 497.5 C1409.5 498.5 1410.1 499.7 1410.9 501.8 C1411.7 503.9 1412.3 508.8 1413.0 509.2 C1413.7 509.6 1414.1 507.8 1414.6 503.8 C1415.1 499.8 1415.6 493.7 1416.0 487.1 C1416.4 480.5 1416.3 475.4 1416.6 466.9 C1416.9 458.4 1417.2 446.8 1417.6 440.1 C1418.0 433.4 1418.4 430.4 1418.9 429.7 C1419.4 429.0 1419.8 432.4 1420.3 436.1 C1420.8 439.8 1421.0 449.5 1421.6 450.2 C1422.2 450.9 1423.0 442.2 1423.7 440.1 C1424.4 438.0 1424.7 438.4 1425.4 438.5 C1426.1 438.6 1426.6 439.7 1427.4 440.8 C1428.2 441.9 1429.3 444.8 1430.1 444.8 C1430.9 444.8 1431.2 441.8 1431.8 440.8 C1432.4 439.8 1432.8 438.7 1433.4 439.5 C1434.0 440.3 1434.7 442.0 1435.4 445.5 C1436.1 449.0 1436.8 455.4 1437.4 458.9 C1438.0 462.4 1438.3 464.7 1438.8 464.9 C1439.3 465.1 1439.9 461.5 1440.4 460.2 C1440.9 458.9 1441.3 457.1 1441.7 457.6 C1442.1 458.1 1442.4 460.3 1442.8 462.9 C1443.2 465.5 1443.4 470.4 1444.1 472.3 C1444.8 474.2 1446.1 471.5 1446.8 473.4 C1447.5 475.3 1447.7 479.3 1448.2 483.0 C1448.7 486.7 1449.2 492.3 1449.8 493.8 C1450.4 495.3 1450.8 493.0 1451.5 491.1 C1452.2 489.2 1452.9 485.2 1453.5 483.0 C1454.1 480.8 1454.4 479.9 1455.1 479.0 C1455.8 478.1 1456.6 478.7 1457.6 477.9 C1458.6 477.1 1459.8 474.5 1460.9 474.3 C1462.0 474.1 1462.8 477.0 1463.6 476.6 C1464.4 476.2 1464.9 473.0 1465.6 472.0 C1466.3 471.0 1466.9 471.0 1467.6 471.2 C1468.3 471.4 1468.9 473.5 1469.6 473.0 C1470.3 472.5 1470.8 469.8 1471.6 468.3 C1472.4 466.8 1473.3 465.2 1474.3 464.9 C1475.3 464.6 1475.9 467.1 1477.0 466.9 C1478.1 466.7 1479.2 463.9 1480.4 463.6 C1481.6 463.3 1482.7 466.1 1483.7 465.3 C1484.7 464.5 1485.0 461.1 1485.7 458.9 C1486.4 456.7 1487.0 454.3 1487.7 452.9 C1488.4 451.5 1488.9 451.2 1489.7 450.9 C1490.5 450.6 1491.4 451.5 1492.4 451.1 C1493.4 450.7 1494.3 449.4 1495.1 448.8 C1495.9 448.2 1496.3 447.6 1497.1 447.9 C1497.9 448.2 1499.2 450.2 1499.8 450.6 C1500.4 451.0 1499.8 450.4 1500.4 450.3 C1501.0 450.2 1502.2 448.8 1503.1 449.9 C1504.0 451.0 1504.7 457.7 1505.4 456.3 C1506.1 454.9 1506.5 446.4 1507.2 442.3 C1507.9 438.2 1508.4 435.4 1509.1 433.5 C1509.8 431.6 1510.3 431.2 1511.0 431.5 C1511.7 431.8 1512.3 432.3 1513.1 435.1 C1513.9 437.9 1514.6 443.2 1515.5 447.1 C1516.4 451.0 1517.2 453.7 1518.3 456.6 C1519.4 459.5 1520.5 462.7 1521.8 463.0 C1523.1 463.3 1524.3 458.4 1525.4 458.5 C1526.5 458.6 1527.0 462.3 1527.9 463.3 C1528.8 464.3 1529.5 463.0 1530.6 463.8 C1531.7 464.6 1532.6 467.4 1533.8 467.8 C1535.0 468.2 1536.0 466.6 1537.0 466.2 C1538.0 465.8 1538.5 464.7 1539.4 465.4 C1540.3 466.1 1540.8 470.9 1541.8 470.2 C1542.8 469.5 1543.8 462.3 1544.9 461.7 C1546.0 461.1 1546.9 465.6 1548.1 467.0 C1549.3 468.4 1550.3 468.6 1551.3 469.4 C1552.3 470.2 1552.9 472.5 1553.7 471.3 C1554.5 470.1 1554.7 464.7 1555.6 463.0 C1556.5 461.3 1557.6 461.1 1558.5 461.7 C1559.4 462.3 1559.7 462.2 1560.4 466.2 C1561.1 470.2 1561.8 477.3 1562.5 483.7 C1563.2 490.1 1563.7 500.7 1564.5 502.0 C1565.3 503.3 1566.3 491.5 1567.2 490.9 C1568.1 490.3 1568.7 498.3 1569.6 498.8 C1570.5 499.3 1570.8 494.5 1572.0 493.6 C1573.2 492.7 1574.8 495.1 1576.0 493.6 C1577.2 492.1 1577.6 485.6 1578.4 485.0 C1579.2 484.4 1579.7 487.5 1580.4 490.1 C1581.1 492.7 1581.6 496.6 1582.4 499.6 C1583.2 502.6 1583.9 506.2 1584.7 506.8 C1585.5 507.4 1586.1 503.3 1587.1 502.8 C1588.1 502.3 1589.3 504.7 1590.3 504.1 C1591.3 503.5 1591.8 499.5 1592.7 499.6 C1593.6 499.7 1594.3 505.4 1595.1 504.7 C1595.9 504.0 1596.3 497.6 1597.0 495.6 C1597.7 493.6 1598.1 493.5 1599.1 493.6 C1600.1 493.7 1601.4 494.7 1602.3 496.4 C1603.2 498.1 1603.6 498.2 1604.3 502.8 C1605.0 507.4 1605.4 519.9 1606.2 521.9 C1607.0 523.9 1607.7 514.8 1608.6 513.9 C1609.5 513.0 1610.3 517.9 1611.3 517.1 C1612.3 516.3 1613.4 510.8 1614.2 509.2 C1615.0 507.6 1615.2 507.9 1615.8 508.4 C1616.4 508.9 1616.7 512.3 1617.4 512.0 C1618.1 511.7 1618.9 508.8 1619.8 506.8 C1620.7 504.8 1621.3 502.2 1622.2 500.9 C1623.1 499.6 1623.8 499.3 1624.6 499.6 C1625.4 499.9 1626.1 501.6 1626.9 502.8 C1627.7 504.0 1628.6 505.9 1629.3 506.0 C1630.0 506.1 1630.2 503.2 1630.9 503.6 C1631.6 504.0 1632.3 507.2 1633.3 508.4 C1634.3 509.6 1635.5 509.9 1636.5 510.0 C1637.5 510.1 1638.0 510.5 1638.9 508.9 C1639.8 507.3 1640.5 503.2 1641.3 501.2 C1642.1 499.2 1642.4 497.7 1643.2 498.0 C1644.0 498.3 1644.8 500.5 1645.7 502.8 C1646.6 505.1 1647.4 509.8 1648.4 510.8 C1649.4 511.8 1650.2 508.5 1651.1 508.4 C1652.0 508.3 1652.5 508.7 1653.2 510.0 C1653.9 511.3 1654.3 512.2 1654.8 515.5 C1655.3 518.8 1655.5 524.1 1655.9 528.3 C1656.3 532.5 1656.5 537.2 1657.2 538.6 C1657.9 540.0 1658.8 534.9 1659.6 536.2 C1660.4 537.5 1661.0 541.5 1661.7 545.8 C1662.4 550.1 1662.9 554.6 1663.6 560.1 C1664.3 565.6 1664.7 574.3 1665.5 576.1 C1666.3 577.9 1667.3 569.4 1668.0 570.0 C1668.7 570.6 1669.0 575.1 1669.6 579.2 C1670.2 583.3 1670.9 590.4 1671.2 592.8 L1671.2 741 L558.9 741 Z" fill="url(#cg)"/>
<path d="M558.9 673.8 C559.4 675.0 560.6 678.8 561.5 680.5 C562.4 682.2 563.4 683.0 564.1 683.1 C564.8 683.2 565.0 682.9 565.6 681.0 C566.2 679.1 566.5 674.3 567.2 672.7 C567.9 671.1 568.5 672.7 569.3 672.2 C570.1 671.7 570.8 671.2 571.4 670.1 C572.0 669.0 572.3 666.0 572.9 665.9 C573.5 665.8 573.9 668.0 574.5 669.6 C575.1 671.2 575.3 673.4 576.0 674.8 C576.7 676.1 577.5 677.3 578.3 677.1 C579.1 676.9 579.6 675.2 580.2 673.8 C580.8 672.4 581.0 670.4 581.8 669.1 C582.6 667.8 583.6 666.9 584.4 666.7 C585.2 666.5 585.5 667.6 586.5 668.0 C587.5 668.4 589.1 668.2 590.1 669.1 C591.1 670.0 591.3 671.5 592.2 673.2 C593.1 674.9 594.3 676.1 595.3 678.4 C596.3 680.6 597.0 684.5 597.9 685.7 C598.8 686.9 599.7 685.7 600.5 685.0 C601.3 684.3 601.8 683.6 602.6 681.6 C603.4 679.6 604.0 676.4 604.7 673.8 C605.4 671.2 606.0 667.7 606.6 667.0 C607.2 666.3 607.8 669.2 608.3 670.1 C608.8 671.0 608.7 672.6 609.4 672.2 C610.1 671.8 611.0 668.6 612.0 668.0 C613.0 667.4 614.1 668.2 615.1 669.1 C616.1 670.0 616.9 673.4 617.7 673.2 C618.5 673.0 618.7 669.5 619.3 668.0 C619.9 666.5 620.2 664.9 620.8 664.9 C621.4 664.9 621.8 666.7 622.4 668.0 C623.0 669.3 623.4 671.2 624.0 672.2 C624.6 673.2 625.2 672.8 626.0 673.8 C626.8 674.8 627.8 677.5 628.6 677.9 C629.4 678.3 629.9 676.2 630.7 675.8 C631.5 675.4 632.0 675.0 632.8 675.8 C633.6 676.6 634.2 677.8 634.9 680.0 C635.6 682.2 635.9 685.8 636.5 688.3 C637.1 690.8 637.4 693.0 638.0 694.1 C638.6 695.2 639.4 695.4 640.1 694.6 C640.8 693.8 641.2 690.8 641.7 689.4 C642.2 688.0 642.5 686.6 643.0 686.8 C643.5 687.0 643.8 687.9 644.3 690.4 C644.8 692.9 645.0 697.1 645.8 700.8 C646.6 704.5 648.0 708.5 649.0 711.2 C650.0 713.9 650.6 716.1 651.2 715.9 C651.8 715.7 652.2 712.5 652.6 710.2 C653.0 707.9 653.1 704.7 653.6 702.9 C654.1 701.1 654.5 700.4 655.2 700.0 C655.9 699.6 656.5 699.9 657.3 700.8 C658.1 701.7 659.0 703.7 659.9 705.0 C660.8 706.3 661.6 707.6 662.5 707.9 C663.4 708.2 664.2 707.5 665.1 706.6 C666.0 705.7 666.9 703.8 667.7 702.9 C668.5 702.0 669.0 701.8 669.8 701.7 C670.6 701.6 671.1 701.6 671.9 702.1 C672.7 702.6 673.2 704.2 674.0 704.2 C674.8 704.2 675.7 701.9 676.6 701.9 C677.5 701.9 678.4 704.0 679.2 704.0 C680.0 704.0 680.5 703.6 681.2 701.9 C681.9 700.2 682.6 696.8 683.3 694.6 C684.0 692.4 684.4 690.2 685.2 689.6 C686.0 689.0 686.5 691.4 687.5 691.5 C688.5 691.6 689.0 690.4 690.6 690.1 C692.2 689.8 695.1 689.3 696.4 690.1 C697.7 690.9 697.3 692.5 697.9 694.6 C698.5 696.7 699.3 700.0 700.0 701.9 C700.7 703.8 701.1 704.8 701.9 705.0 C702.7 705.2 703.9 702.5 704.7 702.9 C705.5 703.3 705.4 705.3 706.2 707.1 C707.0 708.9 708.3 711.4 709.4 712.8 C710.5 714.1 711.6 715.0 712.5 714.6 C713.4 714.2 714.0 711.9 714.6 710.7 C715.2 709.5 715.5 708.2 716.1 708.1 C716.7 708.0 717.4 710.3 718.2 710.0 C719.0 709.7 719.6 708.1 720.3 706.6 C721.0 705.1 721.2 702.5 721.9 701.9 C722.6 701.3 723.2 702.9 724.0 703.4 C724.8 703.9 725.7 705.1 726.6 704.8 C727.5 704.5 728.2 702.5 729.2 701.9 C730.2 701.3 731.5 702.5 732.3 701.7 C733.1 700.9 733.3 699.1 733.9 697.7 C734.5 696.3 735.0 694.0 735.6 693.8 C736.2 693.6 736.6 695.0 737.5 696.5 C738.4 698.0 739.5 699.8 740.6 702.4 C741.7 705.0 742.9 710.5 743.8 710.7 C744.7 710.9 745.0 705.1 745.7 703.3 C746.4 701.5 746.7 700.3 747.5 700.7 C748.3 701.1 749.0 703.8 749.9 705.4 C750.8 707.0 751.5 708.8 752.5 709.6 C753.5 710.4 754.8 708.7 755.6 709.8 C756.4 710.9 756.2 713.3 756.7 715.8 C757.2 718.3 756.9 722.2 758.2 723.6 C759.5 725.0 762.8 725.0 764.0 723.6 C765.0 722.2 764.6 718.3 765.0 715.8 C765.4 713.3 765.4 710.5 766.2 709.8 C767.0 709.1 768.3 712.0 769.2 711.9 C770.1 711.8 770.3 710.1 771.2 709.1 C772.1 708.1 773.3 707.6 774.4 706.5 C775.5 705.4 776.5 702.7 777.3 702.8 C778.1 702.9 778.3 705.8 779.1 707.0 C779.9 708.2 780.6 708.9 781.7 709.4 C782.8 709.9 784.4 709.0 785.3 709.6 C786.2 710.2 786.3 711.5 786.9 712.7 C787.5 713.9 787.8 716.6 788.4 716.0 C789.0 715.4 789.7 710.8 790.5 709.6 C791.3 708.4 792.3 709.5 793.1 709.1 C793.9 708.7 794.4 708.7 795.2 707.5 C796.0 706.3 796.9 703.7 797.8 702.3 C798.7 700.9 799.4 699.1 800.2 699.7 C801.0 700.3 801.6 703.5 802.5 705.4 C803.4 707.3 804.5 710.7 805.4 710.1 C806.3 709.5 807.0 704.2 807.7 702.3 C808.4 700.4 808.6 700.5 809.3 699.7 C810.0 698.9 810.8 699.6 811.4 697.6 C812.0 695.6 811.9 691.8 812.4 688.8 C812.9 685.8 813.4 682.2 814.2 681.2 C815.0 680.2 815.7 682.4 816.6 683.5 C817.5 684.6 818.5 687.4 819.2 687.2 C819.9 687.0 820.1 684.2 820.7 682.5 C821.3 680.8 821.6 678.4 822.3 677.8 C823.0 677.2 823.5 678.6 824.4 678.9 C825.3 679.2 826.2 679.9 827.5 679.6 C828.8 679.3 830.5 677.6 831.7 677.1 C832.9 676.6 833.6 677.2 834.3 676.8 C835.0 676.4 835.2 674.6 835.8 674.7 C836.4 674.8 836.8 676.1 837.4 677.3 C838.0 678.5 838.2 680.6 839.0 681.2 C839.8 681.8 840.9 681.1 841.6 680.4 C842.3 679.7 842.5 678.3 843.1 677.3 C843.7 676.3 843.9 674.9 844.7 674.7 C845.5 674.5 846.3 676.1 847.3 676.2 C848.3 676.3 849.5 675.8 850.4 675.2 C851.3 674.6 851.9 673.9 852.5 672.6 C853.1 671.3 853.3 670.8 853.8 667.9 C854.3 665.0 854.5 659.1 855.1 656.5 C855.7 653.9 856.5 653.9 857.2 653.3 C857.9 652.7 858.3 652.5 858.8 653.1 C859.3 653.7 859.3 654.6 859.8 656.5 C860.3 658.4 860.6 662.8 861.4 663.8 C862.2 664.8 863.3 663.4 864.0 662.2 C864.7 661.0 864.9 658.4 865.5 657.0 C866.1 655.6 866.3 654.5 867.1 654.4 C867.9 654.3 868.8 656.8 869.7 656.7 C870.6 656.6 871.5 653.7 872.3 653.9 C873.1 654.1 873.6 656.4 874.4 657.7 C875.2 659.0 875.8 660.3 876.5 661.1 C877.2 661.9 877.8 662.4 878.5 661.9 C879.2 661.4 879.6 659.6 880.6 658.5 C881.6 657.4 883.4 657.1 884.3 655.6 C885.2 654.1 885.2 651.7 885.8 650.2 C886.4 648.7 887.2 647.8 887.9 647.3 C888.6 646.8 889.2 646.5 889.8 647.3 C890.4 648.1 890.6 650.1 891.0 651.8 C891.4 653.5 891.5 655.4 892.1 656.5 C892.7 657.6 893.5 658.0 894.2 658.0 C894.9 658.0 895.6 657.3 896.2 656.7 C896.8 656.1 897.1 654.5 897.8 654.6 C898.5 654.7 899.1 656.1 899.9 657.5 C900.7 658.9 901.2 661.0 902.0 662.2 C902.8 663.4 903.3 664.0 904.1 664.3 C904.9 664.6 905.7 664.3 906.7 663.8 C907.7 663.3 908.9 662.5 909.8 661.7 C910.7 660.9 911.1 659.4 911.9 659.4 C912.7 659.4 913.6 662.2 914.5 661.9 C915.4 661.6 916.1 658.7 917.1 658.0 C918.1 657.3 919.4 656.8 920.2 658.0 C921.0 659.2 921.2 662.5 921.8 664.8 C922.4 667.1 922.6 669.8 923.3 671.0 C924.0 672.2 925.1 672.9 925.9 671.6 C926.7 670.3 927.0 666.2 927.5 663.8 C928.0 661.4 928.2 657.4 928.8 658.0 C929.4 658.6 930.3 666.4 931.1 667.4 C931.9 668.4 932.1 665.9 933.2 663.8 C934.3 661.7 935.9 656.2 937.0 656.0 C938.1 655.8 938.4 660.1 939.2 662.7 C940.0 665.3 940.6 668.6 941.7 670.2 C942.8 671.8 943.9 670.6 945.1 671.4 C946.3 672.2 947.3 675.2 948.4 674.7 C949.5 674.2 949.8 670.5 951.0 668.5 C952.2 666.5 953.6 664.9 955.1 663.5 C956.6 662.1 958.0 661.9 959.3 660.7 C960.6 659.5 961.0 657.2 962.2 656.8 C963.4 656.4 964.9 658.0 966.0 658.5 C967.1 659.0 967.4 660.9 968.2 659.7 C969.0 658.5 969.2 653.1 970.2 651.8 C971.2 650.5 972.4 650.5 973.6 652.3 C974.8 654.1 975.7 661.7 976.6 661.8 C977.5 661.9 978.0 653.1 978.6 653.0 C979.2 652.9 979.4 657.7 980.0 661.0 C980.6 664.3 981.2 671.4 982.0 671.1 C982.8 670.8 983.5 662.8 984.5 659.3 C985.5 655.8 986.4 654.3 987.8 651.8 C989.2 649.3 991.2 646.5 992.4 645.6 C993.6 644.7 993.8 645.9 994.5 646.7 C995.2 647.5 995.5 650.6 996.2 650.1 C996.9 649.6 997.7 644.7 998.4 644.2 C999.1 643.8 999.5 645.9 1000.1 647.6 C1000.7 649.3 1001.1 654.0 1001.8 653.5 C1002.5 653.0 1003.2 646.2 1003.8 645.1 C1004.4 644.0 1004.6 645.4 1005.4 647.6 C1006.2 649.9 1007.1 654.3 1008.0 657.6 C1008.9 660.9 1009.6 664.3 1010.5 666.0 C1011.4 667.7 1012.3 669.5 1013.0 666.9 C1013.7 664.3 1013.8 655.6 1014.3 651.8 C1014.8 648.0 1015.1 645.6 1015.8 645.9 C1016.5 646.2 1017.3 655.0 1018.0 653.5 C1018.7 652.0 1019.1 642.5 1019.7 637.5 C1020.3 632.5 1020.6 628.0 1021.4 625.8 C1022.2 623.5 1023.0 623.0 1023.9 625.0 C1024.8 627.0 1025.5 635.8 1026.4 636.7 C1027.3 637.6 1028.0 630.4 1028.9 630.0 C1029.8 629.6 1030.3 634.0 1031.4 634.5 C1032.5 635.0 1033.9 635.9 1034.8 632.5 C1035.7 629.1 1035.9 622.6 1036.5 615.7 C1037.1 608.8 1037.5 600.2 1038.1 593.9 C1038.7 587.6 1039.3 583.5 1039.8 580.5 C1040.3 577.5 1040.4 574.8 1041.0 577.2 C1041.6 579.6 1042.4 591.9 1043.2 593.9 C1044.0 595.9 1044.8 591.7 1045.7 588.1 C1046.6 584.5 1047.4 576.9 1048.2 573.8 C1049.0 570.7 1049.3 569.9 1049.9 570.8 C1050.5 571.7 1050.7 581.1 1051.5 578.9 C1052.3 576.7 1053.6 561.4 1054.4 558.7 C1055.2 556.0 1055.5 561.1 1056.1 563.8 C1056.7 566.5 1056.9 575.7 1057.7 573.8 C1058.5 571.9 1059.6 555.2 1060.4 553.4 C1061.2 551.6 1061.5 559.8 1062.1 563.8 C1062.7 567.8 1062.9 576.1 1063.6 575.8 C1064.3 575.5 1065.3 563.4 1066.1 562.1 C1066.9 560.8 1067.3 566.4 1067.8 568.8 C1068.3 571.2 1068.4 573.4 1069.1 575.5 C1069.8 577.6 1070.7 580.5 1071.7 580.5 C1072.7 580.5 1073.5 576.3 1074.5 575.5 C1075.5 574.7 1076.5 574.7 1077.5 575.8 C1078.5 576.9 1079.1 578.9 1080.0 581.4 C1080.9 583.9 1081.6 587.3 1082.6 589.7 C1083.6 592.1 1084.4 595.7 1085.4 594.8 C1086.4 593.9 1087.2 587.7 1088.4 584.7 C1089.6 581.7 1090.6 580.6 1091.8 578.0 C1093.0 575.4 1094.1 572.3 1095.1 570.5 C1096.1 568.7 1096.8 569.2 1097.6 568.0 C1098.4 566.8 1098.9 564.0 1099.7 563.8 C1100.5 563.6 1101.1 565.0 1101.8 567.1 C1102.5 569.2 1102.9 573.1 1103.5 575.5 C1104.1 577.9 1104.4 581.0 1105.2 580.5 C1106.0 580.0 1106.6 574.6 1107.7 573.0 C1108.8 571.4 1110.0 574.1 1111.1 571.8 C1112.2 569.5 1112.7 564.4 1113.6 560.4 C1114.5 556.4 1115.1 552.7 1116.1 549.5 C1117.1 546.3 1118.3 546.9 1119.1 542.8 C1119.9 538.7 1119.9 532.5 1120.3 526.9 C1120.7 521.3 1120.7 515.4 1121.1 511.8 C1121.5 508.2 1122.0 505.6 1122.5 506.8 C1123.0 508.0 1123.1 514.9 1123.6 518.3 C1124.1 521.7 1124.5 523.7 1125.2 525.6 C1125.9 527.5 1126.4 528.2 1127.3 528.8 C1128.2 529.4 1129.6 527.5 1130.4 528.8 C1131.2 530.1 1131.5 533.3 1132.0 536.0 C1132.5 538.7 1132.4 541.8 1133.0 543.9 C1133.6 546.0 1134.7 546.1 1135.6 547.5 C1136.5 548.9 1137.3 550.9 1138.2 551.7 C1139.1 552.5 1139.9 552.2 1140.8 552.2 C1141.7 552.2 1142.6 551.2 1143.4 551.7 C1144.2 552.2 1144.5 552.7 1145.0 554.8 C1145.5 556.9 1145.7 560.8 1146.2 563.1 C1146.7 565.4 1147.1 567.9 1147.6 567.8 C1148.1 567.7 1148.5 564.1 1149.0 562.6 C1149.5 561.1 1149.6 559.4 1150.2 559.5 C1150.8 559.6 1151.5 561.9 1152.3 563.1 C1153.1 564.3 1153.8 565.5 1154.4 566.0 C1155.0 566.5 1155.4 567.2 1155.9 565.7 C1156.4 564.2 1156.6 560.8 1157.0 557.9 C1157.4 555.0 1157.5 552.0 1158.0 549.8 C1158.5 547.6 1159.0 546.7 1159.6 545.9 C1160.2 545.1 1160.5 545.1 1161.1 545.6 C1161.7 546.1 1162.1 547.2 1162.7 548.5 C1163.3 549.8 1163.6 551.7 1164.3 552.7 C1165.0 553.7 1165.8 554.9 1166.4 554.3 C1167.0 553.7 1167.4 551.8 1167.9 549.6 C1168.4 547.4 1168.5 544.1 1169.0 542.3 C1169.5 540.5 1169.6 540.3 1170.5 539.7 C1171.4 539.1 1173.1 539.5 1174.2 539.0 C1175.3 538.5 1176.1 538.4 1176.8 537.1 C1177.5 535.8 1177.8 534.5 1178.3 531.9 C1178.8 529.3 1179.1 524.7 1179.6 522.5 C1180.1 520.3 1180.3 520.3 1180.9 519.9 C1181.5 519.5 1182.3 520.9 1183.0 520.4 C1183.7 519.9 1184.0 518.5 1184.6 517.3 C1185.2 516.1 1185.6 513.9 1186.1 514.0 C1186.6 514.1 1186.9 516.1 1187.5 517.8 C1188.1 519.5 1188.7 522.9 1189.3 523.5 C1189.9 524.1 1190.2 522.6 1190.8 520.9 C1191.4 519.2 1192.1 516.0 1192.9 514.2 C1193.7 512.4 1194.2 511.6 1195.0 511.0 C1195.8 510.4 1196.9 510.4 1197.6 511.0 C1198.3 511.6 1198.5 513.2 1199.0 514.2 C1199.5 515.2 1199.8 517.2 1200.2 516.8 C1200.7 516.4 1201.0 514.1 1201.5 512.1 C1202.0 510.1 1202.3 507.1 1202.8 505.8 C1203.3 504.5 1203.8 504.9 1204.4 505.0 C1205.0 505.1 1205.4 504.7 1205.9 506.4 C1206.4 508.1 1206.8 511.3 1207.3 514.2 C1207.8 517.1 1208.3 521.8 1208.8 522.5 C1209.3 523.2 1209.6 520.7 1210.1 518.3 C1210.6 515.9 1211.0 510.9 1211.5 509.0 C1212.0 507.1 1212.4 508.1 1212.9 507.9 C1213.4 507.7 1213.8 506.6 1214.3 508.1 C1214.8 509.6 1215.1 513.5 1215.6 516.2 C1216.1 518.9 1216.6 523.7 1217.1 523.0 C1217.6 522.3 1218.0 516.3 1218.4 512.1 C1218.8 507.9 1219.1 502.5 1219.5 499.6 C1219.9 496.7 1219.9 496.9 1220.5 496.2 C1221.1 495.5 1222.4 498.1 1223.1 495.9 C1223.8 493.7 1223.8 488.0 1224.2 484.0 C1224.6 480.0 1224.9 474.4 1225.4 473.5 C1225.9 472.6 1226.3 475.0 1226.8 478.8 C1227.3 482.6 1227.5 491.5 1228.3 494.4 C1229.1 497.3 1230.4 493.6 1231.2 494.9 C1232.0 496.2 1232.0 498.2 1232.5 501.7 C1233.0 505.2 1233.3 510.1 1233.8 514.2 C1234.3 518.3 1234.6 521.3 1235.1 524.6 C1235.6 527.9 1236.1 531.6 1236.7 532.4 C1237.3 533.2 1237.6 530.4 1238.2 528.8 C1238.8 527.2 1239.2 524.1 1239.8 523.5 C1240.4 522.9 1240.8 524.3 1241.4 525.6 C1242.0 526.9 1242.3 528.6 1242.9 530.8 C1243.5 533.0 1244.0 536.1 1244.5 537.6 C1245.0 539.1 1245.1 540.0 1245.5 539.2 C1245.9 538.4 1246.2 534.9 1246.6 532.9 C1247.0 530.9 1247.4 528.4 1247.9 528.2 C1248.4 528.0 1248.7 530.4 1249.2 531.9 C1249.7 533.4 1250.1 536.0 1250.7 536.6 C1251.3 537.2 1252.0 536.3 1252.8 535.5 C1253.6 534.7 1254.6 532.8 1255.4 531.9 C1256.2 531.0 1256.4 530.1 1257.0 530.3 C1257.6 530.5 1257.9 531.1 1258.5 532.9 C1259.1 534.7 1259.5 537.8 1260.1 540.2 C1260.7 542.6 1261.3 546.5 1261.9 546.5 C1262.5 546.5 1262.6 543.1 1263.2 540.2 C1263.8 537.3 1264.4 531.2 1265.0 530.3 C1265.6 529.4 1265.9 533.7 1266.4 535.0 C1266.9 536.3 1267.1 538.0 1267.7 537.6 C1268.3 537.2 1268.9 534.9 1269.5 532.9 C1270.1 530.9 1270.4 528.8 1271.0 526.7 C1271.6 524.6 1272.0 522.7 1272.6 521.5 C1273.2 520.3 1273.6 520.2 1274.2 520.2 C1274.8 520.2 1275.5 520.9 1276.2 521.5 C1276.9 522.1 1277.6 522.2 1278.3 523.5 C1279.0 524.8 1279.4 526.2 1279.9 528.8 C1280.4 531.4 1280.5 535.8 1280.9 538.1 C1281.3 540.4 1281.4 541.7 1282.0 541.8 C1282.6 541.9 1283.4 539.6 1284.1 538.6 C1284.8 537.6 1285.5 536.5 1286.1 536.0 C1286.7 535.5 1287.0 535.2 1287.7 535.8 C1288.4 536.4 1289.1 538.0 1289.8 539.2 C1290.5 540.4 1290.8 541.6 1291.4 542.3 C1292.0 543.0 1292.3 543.4 1292.9 543.3 C1293.5 543.2 1294.3 543.3 1295.0 541.8 C1295.7 540.3 1296.0 537.7 1296.6 535.0 C1297.2 532.3 1297.7 527.1 1298.3 526.7 C1298.9 526.3 1299.4 530.3 1300.0 532.9 C1300.6 535.5 1301.1 538.8 1301.8 541.2 C1302.5 543.6 1303.3 546.9 1303.9 546.5 C1304.5 546.1 1304.8 541.7 1305.4 539.2 C1306.0 536.7 1306.4 533.8 1307.0 532.4 C1307.6 531.0 1307.5 531.8 1308.5 531.7 C1309.5 531.6 1311.8 530.5 1312.7 531.9 C1313.5 533.2 1313.2 535.3 1313.5 539.2 C1313.8 543.1 1314.0 549.1 1314.3 553.8 C1314.6 558.5 1315.0 565.2 1315.4 565.5 C1315.8 565.8 1316.2 558.4 1316.7 555.5 C1317.2 552.6 1317.6 549.7 1318.3 549.4 C1319.0 549.1 1319.8 553.1 1320.7 554.1 C1321.6 555.1 1322.4 555.2 1323.4 555.2 C1324.4 555.2 1325.4 553.1 1326.4 553.9 C1327.4 554.7 1328.2 560.4 1329.0 559.5 C1329.8 558.6 1330.1 552.3 1330.8 548.8 C1331.5 545.3 1332.1 542.1 1332.8 540.1 C1333.5 538.1 1334.1 537.2 1334.8 537.8 C1335.5 538.4 1336.1 541.8 1336.8 543.4 C1337.5 545.0 1338.1 546.2 1338.8 546.8 C1339.5 547.4 1340.2 548.7 1340.9 546.8 C1341.6 544.9 1342.2 538.4 1342.9 536.0 C1343.6 533.6 1344.3 534.3 1344.9 533.7 C1345.5 533.1 1345.6 535.1 1346.2 532.7 C1346.8 530.3 1347.5 523.7 1348.2 520.6 C1348.9 517.5 1349.5 516.5 1350.2 515.5 C1350.9 514.5 1351.6 514.8 1352.3 515.0 C1353.0 515.2 1353.7 517.6 1354.3 516.6 C1354.9 515.6 1355.4 510.9 1355.9 509.2 C1356.4 507.5 1356.5 506.5 1357.2 506.9 C1357.9 507.3 1358.6 510.7 1359.6 511.5 C1360.6 512.3 1361.9 511.0 1363.0 511.2 C1364.1 511.4 1364.9 510.7 1365.7 512.6 C1366.5 514.5 1366.8 518.9 1367.4 521.9 C1368.0 524.9 1368.4 527.6 1369.0 529.3 C1369.6 531.0 1370.3 532.0 1371.0 531.6 C1371.7 531.2 1372.3 528.9 1373.0 527.3 C1373.7 525.7 1374.4 523.8 1375.1 522.6 C1375.8 521.4 1376.2 520.1 1376.8 520.6 C1377.4 521.1 1378.1 524.2 1378.7 525.3 C1379.3 526.4 1379.7 527.0 1380.4 526.6 C1381.1 526.2 1381.8 522.7 1382.4 523.3 C1383.0 523.9 1383.3 527.9 1383.8 530.0 C1384.3 532.1 1384.6 536.6 1385.1 534.7 C1385.6 532.8 1385.9 523.8 1386.5 519.3 C1387.1 514.8 1387.8 510.6 1388.5 509.6 C1389.2 508.6 1389.6 511.7 1390.5 513.9 C1391.4 516.1 1392.4 522.1 1393.4 521.9 C1394.4 521.7 1394.9 516.0 1395.8 512.6 C1396.7 509.2 1397.7 505.1 1398.5 503.2 C1399.3 501.3 1399.9 501.9 1400.5 501.8 C1401.1 501.7 1401.3 503.2 1401.9 502.5 C1402.5 501.8 1403.2 498.9 1403.9 497.8 C1404.6 496.7 1405.1 496.6 1405.9 496.5 C1406.7 496.4 1407.7 496.5 1408.6 497.5 C1409.5 498.5 1410.1 499.7 1410.9 501.8 C1411.7 503.9 1412.3 508.8 1413.0 509.2 C1413.7 509.6 1414.1 507.8 1414.6 503.8 C1415.1 499.8 1415.6 493.7 1416.0 487.1 C1416.4 480.5 1416.3 475.4 1416.6 466.9 C1416.9 458.4 1417.2 446.8 1417.6 440.1 C1418.0 433.4 1418.4 430.4 1418.9 429.7 C1419.4 429.0 1419.8 432.4 1420.3 436.1 C1420.8 439.8 1421.0 449.5 1421.6 450.2 C1422.2 450.9 1423.0 442.2 1423.7 440.1 C1424.4 438.0 1424.7 438.4 1425.4 438.5 C1426.1 438.6 1426.6 439.7 1427.4 440.8 C1428.2 441.9 1429.3 444.8 1430.1 444.8 C1430.9 444.8 1431.2 441.8 1431.8 440.8 C1432.4 439.8 1432.8 438.7 1433.4 439.5 C1434.0 440.3 1434.7 442.0 1435.4 445.5 C1436.1 449.0 1436.8 455.4 1437.4 458.9 C1438.0 462.4 1438.3 464.7 1438.8 464.9 C1439.3 465.1 1439.9 461.5 1440.4 460.2 C1440.9 458.9 1441.3 457.1 1441.7 457.6 C1442.1 458.1 1442.4 460.3 1442.8 462.9 C1443.2 465.5 1443.4 470.4 1444.1 472.3 C1444.8 474.2 1446.1 471.5 1446.8 473.4 C1447.5 475.3 1447.7 479.3 1448.2 483.0 C1448.7 486.7 1449.2 492.3 1449.8 493.8 C1450.4 495.3 1450.8 493.0 1451.5 491.1 C1452.2 489.2 1452.9 485.2 1453.5 483.0 C1454.1 480.8 1454.4 479.9 1455.1 479.0 C1455.8 478.1 1456.6 478.7 1457.6 477.9 C1458.6 477.1 1459.8 474.5 1460.9 474.3 C1462.0 474.1 1462.8 477.0 1463.6 476.6 C1464.4 476.2 1464.9 473.0 1465.6 472.0 C1466.3 471.0 1466.9 471.0 1467.6 471.2 C1468.3 471.4 1468.9 473.5 1469.6 473.0 C1470.3 472.5 1470.8 469.8 1471.6 468.3 C1472.4 466.8 1473.3 465.2 1474.3 464.9 C1475.3 464.6 1475.9 467.1 1477.0 466.9 C1478.1 466.7 1479.2 463.9 1480.4 463.6 C1481.6 463.3 1482.7 466.1 1483.7 465.3 C1484.7 464.5 1485.0 461.1 1485.7 458.9 C1486.4 456.7 1487.0 454.3 1487.7 452.9 C1488.4 451.5 1488.9 451.2 1489.7 450.9 C1490.5 450.6 1491.4 451.5 1492.4 451.1 C1493.4 450.7 1494.3 449.4 1495.1 448.8 C1495.9 448.2 1496.3 447.6 1497.1 447.9 C1497.9 448.2 1499.2 450.2 1499.8 450.6 C1500.4 451.0 1499.8 450.4 1500.4 450.3 C1501.0 450.2 1502.2 448.8 1503.1 449.9 C1504.0 451.0 1504.7 457.7 1505.4 456.3 C1506.1 454.9 1506.5 446.4 1507.2 442.3 C1507.9 438.2 1508.4 435.4 1509.1 433.5 C1509.8 431.6 1510.3 431.2 1511.0 431.5 C1511.7 431.8 1512.3 432.3 1513.1 435.1 C1513.9 437.9 1514.6 443.2 1515.5 447.1 C1516.4 451.0 1517.2 453.7 1518.3 456.6 C1519.4 459.5 1520.5 462.7 1521.8 463.0 C1523.1 463.3 1524.3 458.4 1525.4 458.5 C1526.5 458.6 1527.0 462.3 1527.9 463.3 C1528.8 464.3 1529.5 463.0 1530.6 463.8 C1531.7 464.6 1532.6 467.4 1533.8 467.8 C1535.0 468.2 1536.0 466.6 1537.0 466.2 C1538.0 465.8 1538.5 464.7 1539.4 465.4 C1540.3 466.1 1540.8 470.9 1541.8 470.2 C1542.8 469.5 1543.8 462.3 1544.9 461.7 C1546.0 461.1 1546.9 465.6 1548.1 467.0 C1549.3 468.4 1550.3 468.6 1551.3 469.4 C1552.3 470.2 1552.9 472.5 1553.7 471.3 C1554.5 470.1 1554.7 464.7 1555.6 463.0 C1556.5 461.3 1557.6 461.1 1558.5 461.7 C1559.4 462.3 1559.7 462.2 1560.4 466.2 C1561.1 470.2 1561.8 477.3 1562.5 483.7 C1563.2 490.1 1563.7 500.7 1564.5 502.0 C1565.3 503.3 1566.3 491.5 1567.2 490.9 C1568.1 490.3 1568.7 498.3 1569.6 498.8 C1570.5 499.3 1570.8 494.5 1572.0 493.6 C1573.2 492.7 1574.8 495.1 1576.0 493.6 C1577.2 492.1 1577.6 485.6 1578.4 485.0 C1579.2 484.4 1579.7 487.5 1580.4 490.1 C1581.1 492.7 1581.6 496.6 1582.4 499.6 C1583.2 502.6 1583.9 506.2 1584.7 506.8 C1585.5 507.4 1586.1 503.3 1587.1 502.8 C1588.1 502.3 1589.3 504.7 1590.3 504.1 C1591.3 503.5 1591.8 499.5 1592.7 499.6 C1593.6 499.7 1594.3 505.4 1595.1 504.7 C1595.9 504.0 1596.3 497.6 1597.0 495.6 C1597.7 493.6 1598.1 493.5 1599.1 493.6 C1600.1 493.7 1601.4 494.7 1602.3 496.4 C1603.2 498.1 1603.6 498.2 1604.3 502.8 C1605.0 507.4 1605.4 519.9 1606.2 521.9 C1607.0 523.9 1607.7 514.8 1608.6 513.9 C1609.5 513.0 1610.3 517.9 1611.3 517.1 C1612.3 516.3 1613.4 510.8 1614.2 509.2 C1615.0 507.6 1615.2 507.9 1615.8 508.4 C1616.4 508.9 1616.7 512.3 1617.4 512.0 C1618.1 511.7 1618.9 508.8 1619.8 506.8 C1620.7 504.8 1621.3 502.2 1622.2 500.9 C1623.1 499.6 1623.8 499.3 1624.6 499.6 C1625.4 499.9 1626.1 501.6 1626.9 502.8 C1627.7 504.0 1628.6 505.9 1629.3 506.0 C1630.0 506.1 1630.2 503.2 1630.9 503.6 C1631.6 504.0 1632.3 507.2 1633.3 508.4 C1634.3 509.6 1635.5 509.9 1636.5 510.0 C1637.5 510.1 1638.0 510.5 1638.9 508.9 C1639.8 507.3 1640.5 503.2 1641.3 501.2 C1642.1 499.2 1642.4 497.7 1643.2 498.0 C1644.0 498.3 1644.8 500.5 1645.7 502.8 C1646.6 505.1 1647.4 509.8 1648.4 510.8 C1649.4 511.8 1650.2 508.5 1651.1 508.4 C1652.0 508.3 1652.5 508.7 1653.2 510.0 C1653.9 511.3 1654.3 512.2 1654.8 515.5 C1655.3 518.8 1655.5 524.1 1655.9 528.3 C1656.3 532.5 1656.5 537.2 1657.2 538.6 C1657.9 540.0 1658.8 534.9 1659.6 536.2 C1660.4 537.5 1661.0 541.5 1661.7 545.8 C1662.4 550.1 1662.9 554.6 1663.6 560.1 C1664.3 565.6 1664.7 574.3 1665.5 576.1 C1666.3 577.9 1667.3 569.4 1668.0 570.0 C1668.7 570.6 1669.0 575.1 1669.6 579.2 C1670.2 583.3 1670.9 590.4 1671.2 592.8" fill="none" stroke="#34d399" stroke-width="2" stroke-linejoin="round" stroke-linecap="round"/>
</svg>

<!-- table -->
<div class="abs card" style="left:534px;top:838px;width:1162px;height:202px;overflow:hidden">
<div class="abs" style="left:0;top:57px;width:1162px;height:145px;background:#1c2533"></div>
<div class="abs" style="left:0;top:56px;width:1162px;height:1px;background:#111827"></div>
<div class="abs" style="left:0;top:129px;width:1162px;height:1px;background:#111827"></div>
</div>
<div class="abs" style="left:559px;top:911px;width:40px;height:40px"><svg class="abs" style="left:0;top:0" width="40" height="40" viewBox="0 0 40 40"><defs>
<clipPath id="s2c"><circle cx="20" cy="20" r="20"/></clipPath>
<linearGradient id="s2a" x1="0.15" y1="0.1" x2="0.6" y2="0.95"><stop offset="0" stop-color="#ff86d8"/><stop offset="0.55" stop-color="#cf5ee6"/><stop offset="1" stop-color="#9a3cf8"/></linearGradient>
<linearGradient id="s2b" x1="0.75" y1="0.05" x2="0.25" y2="0.9"><stop offset="0" stop-color="#cdd0f4"/><stop offset="0.5" stop-color="#e08adf"/><stop offset="1" stop-color="#f53ec8"/></linearGradient>
<linearGradient id="s2d" x1="0" y1="0.2" x2="1" y2="0.9"><stop offset="0" stop-color="#2a9cf8"/><stop offset="1" stop-color="#5fe0b8"/></linearGradient>
</defs><g clip-path="url(#s2c)"><rect width="40" height="40" fill="url(#s2a)"/>
<path d="M0 4 L12 0 L8 3 Z" fill="#5a54ee"/>
<polygon points="-2,22.5 27,40.3 27,44 -2,44" fill="url(#s2d)"/>
<polygon points="14.1,27.7 31.4,3.8 48,16 31,40" fill="url(#s2b)"/>
</g></svg></div>
<div class="abs" style="left:559px;top:984px;width:40px;height:40px"><svg class="abs" style="left:0;top:0" width="40" height="40" viewBox="0 0 40 40"><defs>
<clipPath id="s3c"><circle cx="20" cy="20" r="20"/></clipPath>
<linearGradient id="s3a" x1="0" y1="0" x2="0" y2="1"><stop offset="0" stop-color="#f83cc8"/><stop offset="0.55" stop-color="#d6a0ea"/><stop offset="1" stop-color="#b6ecff"/></linearGradient>
<linearGradient id="s3b" x1="0.8" y1="0.1" x2="0.2" y2="0.95"><stop offset="0" stop-color="#00ccb4"/><stop offset="0.5" stop-color="#1aaccc"/><stop offset="1" stop-color="#3c8af2"/></linearGradient>
</defs><g clip-path="url(#s3c)"><rect width="40" height="40" fill="#2ab0ff"/>
<rect x="5" y="2.9" width="30.6" height="40" fill="url(#s3a)"/>
<polygon points="-2,-3.2 6.7,5.4 22,20.5 7.7,34.4 -2,44" fill="url(#s3b)"/>
<polygon points="25.6,31.3 38.4,27 41,36 28.3,37.9" fill="#ff74d8"/>
</g></svg></div>
<svg class="abs" style="left:0;top:0" width="1920" height="1193" viewBox="0 0 1920 1193">
<path d="M1152 940.4H1247" stroke="#14b8a6" stroke-opacity="0.85" stroke-width="1" stroke-dasharray="2 2.4" fill="none"/>
<path d="M1152 1010.9H1247" stroke="#14b8a6" stroke-opacity="0.85" stroke-width="1" stroke-dasharray="2 2.4" fill="none"/>
<path d="M1148.2 939.0 L1149.5 937.1 L1150.7 942.1 L1152.6 941.5 L1154.5 943.8 L1156.4 941.3 L1158.7 939.6 L1160.8 941.5 L1163.7 944.0 L1166.4 942.8 L1169.0 942.1 L1171.5 940.2 L1174.0 939.0 L1176.5 940.2 L1179.6 940.5 L1182.8 943.4 L1186.6 938.7 L1189.1 940.9 L1191.0 942.5 L1192.8 942.1 L1194.7 936.5 L1196.6 935.8 L1199.1 933.3 L1202.3 930.8 L1203.5 931.4 L1205.4 929.2 L1207.3 932.7 L1208.9 937.1 L1211.4 936.5 L1213.0 929.6 L1214.5 930.8 L1216.1 934.6 L1218.0 932.7 L1220.5 931.4 L1223.6 931.7 L1226.2 929.6 L1228.0 926.7 L1229.9 928.3 L1231.8 929.9 L1234.3 927.9 L1236.2 925.8 L1237.5 922.0 L1239.3 920.8 L1240.9 921.4 L1242.7 917.6 L1244.4 919.5 L1246.3 920.8 L1246.9 922.4" fill="none" stroke="#06d8c6" stroke-width="2" stroke-linejoin="round" stroke-linecap="round"/>
<path d="M1148.2 1009.4 L1149.5 1007.5 L1150.7 1013.1 L1152.6 1013.8 L1154.5 1016.3 L1156.4 1013.8 L1158.7 1012.5 L1160.8 1014.4 L1163.7 1016.9 L1166.4 1014.4 L1169.0 1013.1 L1171.5 1011.3 L1174.0 1007.5 L1176.5 1010.6 L1179.6 1011.3 L1182.8 1013.8 L1186.6 1010.6 L1189.1 1012.5 L1191.0 1014.4 L1192.8 1013.8 L1194.7 1007.5 L1196.6 1008.7 L1199.1 1006.9 L1202.3 1002.5 L1203.5 1003.1 L1205.4 1000.6 L1207.3 1005.0 L1208.9 1010.0 L1211.4 1006.9 L1213.0 1001.8 L1214.5 1002.8 L1216.1 1006.2 L1218.0 1004.3 L1220.5 1003.1 L1223.6 1003.1 L1226.2 1001.8 L1228.0 1001.6 L1229.9 1002.5 L1231.8 1003.1 L1234.3 1000.6 L1236.2 998.1 L1237.5 994.9 L1239.3 993.7 L1240.9 994.9 L1242.7 990.8 L1244.4 992.4 L1246.3 996.2 L1246.9 998.3" fill="none" stroke="#06d8c6" stroke-width="2" stroke-linejoin="round" stroke-linecap="round"/>
</svg>

<!-- stats -->
<div class="abs card" style="left:534px;top:1066px;width:377px;height:111px"></div>
<div class="abs card" style="left:927px;top:1066px;width:376px;height:111px"></div>
<div class="abs card" style="left:1319px;top:1066px;width:377px;height:111px"></div>

<span class="t" id="t19" style="left:551.2px;top:132.25px;font-size:14.77px;font-weight:400;color:#ffffff;-webkit-text-stroke:0.5px currentColor;letter-spacing:0.176px;">My Deposits</span>
<span class="t" id="t20" style="left:684.4px;top:132.25px;font-size:14.77px;font-weight:400;color:#d1d5db;-webkit-text-stroke:0.5px currentColor;letter-spacing:0.208px;">My Vaults</span>
<span class="t" id="t21" style="left:800.1px;top:132.25px;font-size:14.77px;font-weight:400;color:#d1d5db;-webkit-text-stroke:0.5px currentColor;letter-spacing:0.505px;">Activity</span>
<span class="t" id="t22" style="left:558.0px;top:218.56px;font-size:31.65px;font-weight:700;color:#ffffff;letter-spacing:-0.438px;">My Deposits</span>
<span class="t" id="t23" style="left:558.3px;top:254.85px;font-size:14.77px;font-weight:400;color:#9ca3af;letter-spacing:0.120px;">Deposits made with any of the wallets associated with your account are show below</span>
<span class="t" id="t24" style="left:559.2px;top:324.05px;font-size:14.77px;font-weight:400;color:#9ca3af;letter-spacing:0.038px;">Total Portfolio Value</span>
<span class="t" id="t25" style="left:559.7px;top:347.61px;font-size:50.96px;font-weight:700;color:#f3f4f6;letter-spacing:-1.127px;">$1.02</span>
<span class="t" id="t26" style="left:701.7px;top:377.59px;font-size:15.19px;font-weight:400;color:#4ade80;letter-spacing:0.383px;">2.06%</span>
<span class="t" id="t27" style="left:763.7px;top:376.16px;font-size:16.88px;font-weight:400;color:#f3f4f6;-webkit-text-stroke:0.3px currentColor;letter-spacing:-0.614px;">Past 1D</span>
<span class="t" id="t28" style="left:1365.3px;top:362.95px;font-size:14.77px;font-weight:400;color:#ffffff;-webkit-text-stroke:0.5px currentColor;letter-spacing:-0.600px;">1D</span>
<span class="t" id="t29" style="left:1416.2px;top:362.95px;font-size:14.77px;font-weight:400;color:#f3f4f6;-webkit-text-stroke:0.5px currentColor;letter-spacing:-0.600px;">1W</span>
<span class="t" id="t30" style="left:1471.6px;top:362.95px;font-size:14.77px;font-weight:400;color:#f3f4f6;-webkit-text-stroke:0.5px currentColor;letter-spacing:-0.600px;">1M</span>
<span class="t" id="t31" style="left:1526.3px;top:362.95px;font-size:14.77px;font-weight:400;color:#f3f4f6;-webkit-text-stroke:0.5px currentColor;letter-spacing:0.286px;">3M</span>
<span class="t" id="t32" style="left:1582.7px;top:362.95px;font-size:14.77px;font-weight:400;color:#f3f4f6;-webkit-text-stroke:0.5px currentColor;letter-spacing:0.484px;">6M</span>
<span class="t" id="t33" style="left:1638.8px;top:362.95px;font-size:14.77px;font-weight:400;color:#6b7280;-webkit-text-stroke:0.5px currentColor;letter-spacing:-0.600px;">1Y</span>
<span class="t" id="t34" style="left:559.7px;top:752.28px;font-size:12.66px;font-weight:400;color:#e5e7eb;-webkit-text-stroke:0.5px currentColor;letter-spacing:0.379px;">00:00</span>
<span class="t" id="t35" style="left:854.6px;top:752.28px;font-size:12.66px;font-weight:400;color:#e5e7eb;-webkit-text-stroke:0.5px currentColor;letter-spacing:-0.221px;">09:15</span>
<span class="t" id="t36" style="left:1146.3px;top:752.28px;font-size:12.66px;font-weight:400;color:#e5e7eb;-webkit-text-stroke:0.5px currentColor;letter-spacing:-0.496px;">17:55</span>
<span class="t" id="t37" style="left:1438.8px;top:752.28px;font-size:12.66px;font-weight:400;color:#e5e7eb;-webkit-text-stroke:0.5px currentColor;letter-spacing:0.379px;">02:40</span>
<span class="t" id="t38" style="left:559.3px;top:860.13px;font-size:12.66px;font-weight:400;color:#9ca3af;-webkit-text-stroke:0.5px currentColor;letter-spacing:0.369px;">VAULT NAME</span>
<span class="t" id="t39" style="left:913.0px;top:860.13px;font-size:12.66px;font-weight:400;color:#9ca3af;-webkit-text-stroke:0.5px currentColor;letter-spacing:0.360px;">ALL TIME</span>
<span class="t" id="t40" style="left:1068.0px;top:851.83px;font-size:12.66px;font-weight:400;color:#9ca3af;-webkit-text-stroke:0.5px currentColor;letter-spacing:-0.113px;">THIS</span>
<span class="t" id="t41" style="left:1048.7px;top:868.03px;font-size:12.66px;font-weight:400;color:#9ca3af;-webkit-text-stroke:0.5px currentColor;letter-spacing:0.348px;">MONTH</span>
<span class="t" id="t42" style="left:1171.0px;top:860.13px;font-size:12.66px;font-weight:400;color:#9ca3af;-webkit-text-stroke:0.5px currentColor;letter-spacing:0.372px;">LAST 7 DAYS</span>
<span class="t" id="t43" style="left:1337.5px;top:851.83px;font-size:12.66px;font-weight:400;color:#9ca3af;-webkit-text-stroke:0.5px currentColor;letter-spacing:-0.530px;">SHARE</span>
<span class="t" id="t44" style="left:1342.5px;top:868.03px;font-size:12.66px;font-weight:400;color:#9ca3af;-webkit-text-stroke:0.5px currentColor;letter-spacing:-0.547px;">PRICE</span>
<span class="t" id="t45" style="left:1475.5px;top:860.13px;font-size:12.66px;font-weight:400;color:#9ca3af;-webkit-text-stroke:0.5px currentColor;letter-spacing:-0.349px;">SHARES</span>
<span class="t" id="t46" style="left:1631.8px;top:860.13px;font-size:12.66px;font-weight:400;color:#9ca3af;-webkit-text-stroke:0.5px currentColor;letter-spacing:0.033px;">VALUE</span>
<span class="t" id="t47" style="left:615.0px;top:924.25px;font-size:14.77px;font-weight:400;color:#ffffff;-webkit-text-stroke:0.5px currentColor;letter-spacing:0.001px;">Shoshana Capital</span>
<span class="t" id="t48" style="left:919.8px;top:924.25px;font-size:14.77px;font-weight:400;color:#f87171;-webkit-text-stroke:0.3px currentColor;letter-spacing:-0.951px;">-51.16%</span>
<span class="t" id="t49" style="left:1047.9px;top:924.25px;font-size:14.77px;font-weight:400;color:#4ade80;-webkit-text-stroke:0.3px currentColor;letter-spacing:-0.758px;">21.33%</span>
<span class="t" id="t50" style="left:1337.5px;top:924.25px;font-size:14.77px;font-weight:400;color:#f3f4f6;-webkit-text-stroke:0.5px currentColor;letter-spacing:0.535px;">$0.49</span>
<span class="t" id="t51" style="left:1476.4px;top:924.25px;font-size:14.77px;font-weight:400;color:#f3f4f6;-webkit-text-stroke:0.5px currentColor;letter-spacing:0.185px;">3.2744</span>
<span class="t" id="t52" style="left:1632.8px;top:924.25px;font-size:14.77px;font-weight:400;color:#f3f4f6;-webkit-text-stroke:0.5px currentColor;letter-spacing:-0.290px;">$1.60</span>
<span class="t" id="t53" style="left:615.0px;top:997.05px;font-size:14.77px;font-weight:400;color:#ffffff;-webkit-text-stroke:0.5px currentColor;letter-spacing:-0.221px;">Insula<span style="font-size:0.72em;position:relative;top:-0.22em">™</span> Phaeacia</span>
<span class="t" id="t54" style="left:917.3px;top:997.05px;font-size:14.77px;font-weight:400;color:#f87171;-webkit-text-stroke:0.3px currentColor;letter-spacing:-0.533px;">-57.74%</span>
<span class="t" id="t55" style="left:1047.6px;top:997.05px;font-size:14.77px;font-weight:400;color:#4ade80;-webkit-text-stroke:0.3px currentColor;letter-spacing:-0.698px;">48.61%</span>
<span class="t" id="t56" style="left:1337.5px;top:997.05px;font-size:14.77px;font-weight:400;color:#f3f4f6;-webkit-text-stroke:0.5px currentColor;letter-spacing:0.535px;">$0.42</span>
<span class="t" id="t57" style="left:1477.6px;top:997.05px;font-size:14.77px;font-weight:400;color:#f3f4f6;-webkit-text-stroke:0.5px currentColor;letter-spacing:-0.054px;">1.2464</span>
<span class="t" id="t58" style="left:1630.0px;top:997.05px;font-size:14.77px;font-weight:400;color:#f3f4f6;-webkit-text-stroke:0.5px currentColor;letter-spacing:0.410px;">$0.53</span>
<span class="t" id="t59" style="left:558.9px;top:1092.25px;font-size:14.77px;font-weight:400;color:#a3aab8;-webkit-text-stroke:0.3px currentColor;letter-spacing:0.013px;">Total Value</span>
<span class="t" id="t60" style="left:558.5px;top:1124.42px;font-size:25.32px;font-weight:700;color:#ffffff;letter-spacing:-0.462px;">$2.13</span>
<span class="t" id="t61" style="left:951.7px;top:1092.25px;font-size:14.77px;font-weight:400;color:#a3aab8;-webkit-text-stroke:0.3px currentColor;letter-spacing:0.160px;">Total Vaults Deposited</span>
<span class="t" id="t62" style="left:951.7px;top:1124.42px;font-size:25.32px;font-weight:700;color:#ffffff;letter-spacing:0.000px;">2</span>
<span class="t" id="t63" style="left:1343.8px;top:1092.25px;font-size:14.77px;font-weight:400;color:#a3aab8;-webkit-text-stroke:0.3px currentColor;letter-spacing:0.116px;">Average Performance This Month</span>
<span class="t" id="t64" style="left:1344.8px;top:1124.42px;font-size:25.32px;font-weight:700;color:#4ade80;letter-spacing:-0.073px;">+34.97%</span>
</main>

<!-- watermark -->
<svg id="wm" class="abs" style="left:0;top:0;opacity:0.082;pointer-events:none" width="1920" height="1193" viewBox="0 0 1920 1193"><defs>
<g id="gl"><path d="M0 -18.2 A18.2 18.2 0 1 0 18.2 0 L9.4 0 A9.4 9.4 0 1 1 0 -9.4 Z" fill="#fff"/><rect x="0.3" y="-9.7" width="9.4" height="9.4" fill="#fff"/></g></defs>
<g transform="translate(-256.3 -286.0) rotate(30)"><use href="#gl"/><text transform="translate(23.2 11.8) scale(1.1 1)" font-size="34.5" letter-spacing="0.5">Gate Learn</text></g>
<g transform="translate(57.2 -286.0) rotate(30)"><use href="#gl"/><text transform="translate(23.2 11.8) scale(1.1 1)" font-size="34.5" letter-spacing="0.5">Gate Learn</text></g>
<g transform="translate(370.7 -286.0) rotate(30)"><use href="#gl"/><text transform="translate(23.2 11.8) scale(1.1 1)" font-size="34.5" letter-spacing="0.5">Gate Learn</text></g>
<g transform="translate(684.2 -286.0) rotate(30)"><use href="#gl"/><text transform="translate(23.2 11.8) scale(1.1 1)" font-size="34.5" letter-spacing="0.5">Gate Learn</text></g>
<g transform="translate(997.7 -286.0) rotate(30)"><use href="#gl"/><text transform="translate(23.2 11.8) scale(1.1 1)" font-size="34.5" letter-spacing="0.5">Gate Learn</text></g>
<g transform="translate(1311.2 -286.0) rotate(30)"><use href="#gl"/><text transform="translate(23.2 11.8) scale(1.1 1)" font-size="34.5" letter-spacing="0.5">Gate Learn</text></g>
<g transform="translate(1624.7 -286.0) rotate(30)"><use href="#gl"/><text transform="translate(23.2 11.8) scale(1.1 1)" font-size="34.5" letter-spacing="0.5">Gate Learn</text></g>
<g transform="translate(1938.2 -286.0) rotate(30)"><use href="#gl"/><text transform="translate(23.2 11.8) scale(1.1 1)" font-size="34.5" letter-spacing="0.5">Gate Learn</text></g>
<g transform="translate(-256.3 25.0) rotate(30)"><use href="#gl"/><text transform="translate(23.2 11.8) scale(1.1 1)" font-size="34.5" letter-spacing="0.5">Gate Learn</text></g>
<g transform="translate(57.2 25.0) rotate(30)"><use href="#gl"/><text transform="translate(23.2 11.8) scale(1.1 1)" font-size="34.5" letter-spacing="0.5">Gate Learn</text></g>
<g transform="translate(370.7 25.0) rotate(30)"><use href="#gl"/><text transform="translate(23.2 11.8) scale(1.1 1)" font-size="34.5" letter-spacing="0.5">Gate Learn</text></g>
<g transform="translate(684.2 25.0) rotate(30)"><use href="#gl"/><text transform="translate(23.2 11.8) scale(1.1 1)" font-size="34.5" letter-spacing="0.5">Gate Learn</text></g>
<g transform="translate(997.7 25.0) rotate(30)"><use href="#gl"/><text transform="translate(23.2 11.8) scale(1.1 1)" font-size="34.5" letter-spacing="0.5">Gate Learn</text></g>
<g transform="translate(1311.2 25.0) rotate(30)"><use href="#gl"/><text transform="translate(23.2 11.8) scale(1.1 1)" font-size="34.5" letter-spacing="0.5">Gate Learn</text></g>
<g transform="translate(1624.7 25.0) rotate(30)"><use href="#gl"/><text transform="translate(23.2 11.8) scale(1.1 1)" font-size="34.5" letter-spacing="0.5">Gate Learn</text></g>
<g transform="translate(1938.2 25.0) rotate(30)"><use href="#gl"/><text transform="translate(23.2 11.8) scale(1.1 1)" font-size="34.5" letter-spacing="0.5">Gate Learn</text></g>
<g transform="translate(-256.3 336.0) rotate(30)"><use href="#gl"/><text transform="translate(23.2 11.8) scale(1.1 1)" font-size="34.5" letter-spacing="0.5">Gate Learn</text></g>
<g transform="translate(57.2 336.0) rotate(30)"><use href="#gl"/><text transform="translate(23.2 11.8) scale(1.1 1)" font-size="34.5" letter-spacing="0.5">Gate Learn</text></g>
<g transform="translate(370.7 336.0) rotate(30)"><use href="#gl"/><text transform="translate(23.2 11.8) scale(1.1 1)" font-size="34.5" letter-spacing="0.5">Gate Learn</text></g>
<g transform="translate(684.2 336.0) rotate(30)"><use href="#gl"/><text transform="translate(23.2 11.8) scale(1.1 1)" font-size="34.5" letter-spacing="0.5">Gate Learn</text></g>
<g transform="translate(997.7 336.0) rotate(30)"><use href="#gl"/><text transform="translate(23.2 11.8) scale(1.1 1)" font-size="34.5" letter-spacing="0.5">Gate Learn</text></g>
<g transform="translate(1311.2 336.0) rotate(30)"><use href="#gl"/><text transform="translate(23.2 11.8) scale(1.1 1)" font-size="34.5" letter-spacing="0.5">Gate Learn</text></g>
<g transform="translate(1624.7 336.0) rotate(30)"><use href="#gl"/><text transform="translate(23.2 11.8) scale(1.1 1)" font-size="34.5" letter-spacing="0.5">Gate Learn</text></g>
<g transform="translate(1938.2 336.0) rotate(30)"><use href="#gl"/><text transform="translate(23.2 11.8) scale(1.1 1)" font-size="34.5" letter-spacing="0.5">Gate Learn</text></g>
<g transform="translate(-256.3 647.0) rotate(30)"><use href="#gl"/><text transform="translate(23.2 11.8) scale(1.1 1)" font-size="34.5" letter-spacing="0.5">Gate Learn</text></g>
<g transform="translate(57.2 647.0) rotate(30)"><use href="#gl"/><text transform="translate(23.2 11.8) scale(1.1 1)" font-size="34.5" letter-spacing="0.5">Gate Learn</text></g>
<g transform="translate(370.7 647.0) rotate(30)"><use href="#gl"/><text transform="translate(23.2 11.8) scale(1.1 1)" font-size="34.5" letter-spacing="0.5">Gate Learn</text></g>
<g transform="translate(684.2 647.0) rotate(30)"><use href="#gl"/><text transform="translate(23.2 11.8) scale(1.1 1)" font-size="34.5" letter-spacing="0.5">Gate Learn</text></g>
<g transform="translate(997.7 647.0) rotate(30)"><use href="#gl"/><text transform="translate(23.2 11.8) scale(1.1 1)" font-size="34.5" letter-spacing="0.5">Gate Learn</text></g>
<g transform="translate(1311.2 647.0) rotate(30)"><use href="#gl"/><text transform="translate(23.2 11.8) scale(1.1 1)" font-size="34.5" letter-spacing="0.5">Gate Learn</text></g>
<g transform="translate(1624.7 647.0) rotate(30)"><use href="#gl"/><text transform="translate(23.2 11.8) scale(1.1 1)" font-size="34.5" letter-spacing="0.5">Gate Learn</text></g>
<g transform="translate(1938.2 647.0) rotate(30)"><use href="#gl"/><text transform="translate(23.2 11.8) scale(1.1 1)" font-size="34.5" letter-spacing="0.5">Gate Learn</text></g>
<g transform="translate(-256.3 958.0) rotate(30)"><use href="#gl"/><text transform="translate(23.2 11.8) scale(1.1 1)" font-size="34.5" letter-spacing="0.5">Gate Learn</text></g>
<g transform="translate(57.2 958.0) rotate(30)"><use href="#gl"/><text transform="translate(23.2 11.8) scale(1.1 1)" font-size="34.5" letter-spacing="0.5">Gate Learn</text></g>
<g transform="translate(370.7 958.0) rotate(30)"><use href="#gl"/><text transform="translate(23.2 11.8) scale(1.1 1)" font-size="34.5" letter-spacing="0.5">Gate Learn</text></g>
<g transform="translate(684.2 958.0) rotate(30)"><use href="#gl"/><text transform="translate(23.2 11.8) scale(1.1 1)" font-size="34.5" letter-spacing="0.5">Gate Learn</text></g>
<g transform="translate(997.7 958.0) rotate(30)"><use href="#gl"/><text transform="translate(23.2 11.8) scale(1.1 1)" font-size="34.5" letter-spacing="0.5">Gate Learn</text></g>
<g transform="translate(1311.2 958.0) rotate(30)"><use href="#gl"/><text transform="translate(23.2 11.8) scale(1.1 1)" font-size="34.5" letter-spacing="0.5">Gate Learn</text></g>
<g transform="translate(1624.7 958.0) rotate(30)"><use href="#gl"/><text transform="translate(23.2 11.8) scale(1.1 1)" font-size="34.5" letter-spacing="0.5">Gate Learn</text></g>
<g transform="translate(1938.2 958.0) rotate(30)"><use href="#gl"/><text transform="translate(23.2 11.8) scale(1.1 1)" font-size="34.5" letter-spacing="0.5">Gate Learn</text></g>
<g transform="translate(-256.3 1269.0) rotate(30)"><use href="#gl"/><text transform="translate(23.2 11.8) scale(1.1 1)" font-size="34.5" letter-spacing="0.5">Gate Learn</text></g>
<g transform="translate(57.2 1269.0) rotate(30)"><use href="#gl"/><text transform="translate(23.2 11.8) scale(1.1 1)" font-size="34.5" letter-spacing="0.5">Gate Learn</text></g>
<g transform="translate(370.7 1269.0) rotate(30)"><use href="#gl"/><text transform="translate(23.2 11.8) scale(1.1 1)" font-size="34.5" letter-spacing="0.5">Gate Learn</text></g>
<g transform="translate(684.2 1269.0) rotate(30)"><use href="#gl"/><text transform="translate(23.2 11.8) scale(1.1 1)" font-size="34.5" letter-spacing="0.5">Gate Learn</text></g>
<g transform="translate(997.7 1269.0) rotate(30)"><use href="#gl"/><text transform="translate(23.2 11.8) scale(1.1 1)" font-size="34.5" letter-spacing="0.5">Gate Learn</text></g>
<g transform="translate(1311.2 1269.0) rotate(30)"><use href="#gl"/><text transform="translate(23.2 11.8) scale(1.1 1)" font-size="34.5" letter-spacing="0.5">Gate Learn</text></g>
<g transform="translate(1624.7 1269.0) rotate(30)"><use href="#gl"/><text transform="translate(23.2 11.8) scale(1.1 1)" font-size="34.5" letter-spacing="0.5">Gate Learn</text></g>
<g transform="translate(1938.2 1269.0) rotate(30)"><use href="#gl"/><text transform="translate(23.2 11.8) scale(1.1 1)" font-size="34.5" letter-spacing="0.5">Gate Learn</text></g>
</svg>
</body></html>
